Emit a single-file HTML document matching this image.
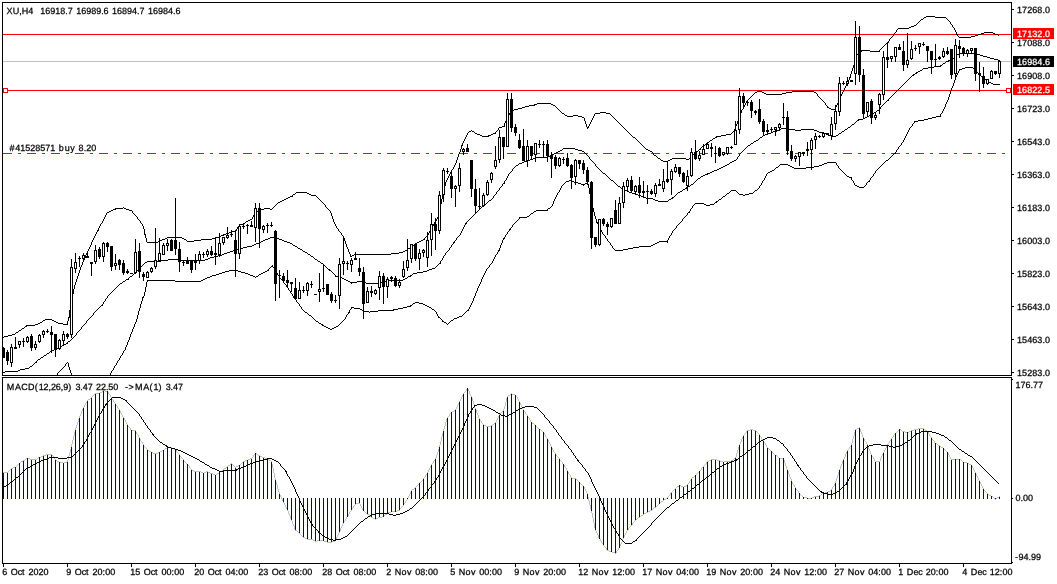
<!DOCTYPE html>
<html><head><meta charset="utf-8"><title>XU,H4</title>
<style>html,body{margin:0;padding:0;background:#fff;overflow:hidden}svg{display:block}text{text-rendering:geometricPrecision;white-space:pre}</style>
</head><body>
<svg width="1057" height="584" viewBox="0 0 1057 584" shape-rendering="crispEdges" font-family="'Liberation Sans', Arial, sans-serif" font-size="9px">
<defs><clipPath id="cm"><rect x="3" y="3" width="1008" height="372"/></clipPath><clipPath id="cd"><rect x="3" y="378" width="1008" height="185"/></clipPath></defs>
<rect x="0" y="0" width="1057" height="584" fill="#fff"/>
<rect x="3" y="61" width="1008" height="1" fill="#c0c0c0"/>
<rect x="3" y="34" width="1008" height="1" fill="#ff0000"/>
<rect x="3" y="90" width="1008" height="1" fill="#ff0000"/>
<rect x="3" y="153" width="9" height="1" fill="#008000"/>
<rect x="18" y="153" width="3" height="1" fill="#008000"/>
<rect x="27" y="153" width="9" height="1" fill="#008000"/>
<rect x="42" y="153" width="3" height="1" fill="#008000"/>
<rect x="51" y="153" width="9" height="1" fill="#008000"/>
<rect x="66" y="153" width="3" height="1" fill="#008000"/>
<rect x="75" y="153" width="9" height="1" fill="#008000"/>
<rect x="90" y="153" width="3" height="1" fill="#008000"/>
<rect x="99" y="153" width="9" height="1" fill="#008000"/>
<rect x="114" y="153" width="3" height="1" fill="#008000"/>
<rect x="123" y="153" width="9" height="1" fill="#008000"/>
<rect x="138" y="153" width="3" height="1" fill="#008000"/>
<rect x="147" y="153" width="9" height="1" fill="#008000"/>
<rect x="162" y="153" width="3" height="1" fill="#008000"/>
<rect x="171" y="153" width="9" height="1" fill="#008000"/>
<rect x="186" y="153" width="3" height="1" fill="#008000"/>
<rect x="195" y="153" width="9" height="1" fill="#008000"/>
<rect x="210" y="153" width="3" height="1" fill="#008000"/>
<rect x="219" y="153" width="9" height="1" fill="#008000"/>
<rect x="234" y="153" width="3" height="1" fill="#008000"/>
<rect x="243" y="153" width="9" height="1" fill="#008000"/>
<rect x="258" y="153" width="3" height="1" fill="#008000"/>
<rect x="267" y="153" width="9" height="1" fill="#008000"/>
<rect x="282" y="153" width="3" height="1" fill="#008000"/>
<rect x="291" y="153" width="9" height="1" fill="#008000"/>
<rect x="306" y="153" width="3" height="1" fill="#008000"/>
<rect x="315" y="153" width="9" height="1" fill="#008000"/>
<rect x="330" y="153" width="3" height="1" fill="#008000"/>
<rect x="339" y="153" width="9" height="1" fill="#008000"/>
<rect x="354" y="153" width="3" height="1" fill="#008000"/>
<rect x="363" y="153" width="9" height="1" fill="#008000"/>
<rect x="378" y="153" width="3" height="1" fill="#008000"/>
<rect x="387" y="153" width="9" height="1" fill="#008000"/>
<rect x="402" y="153" width="3" height="1" fill="#008000"/>
<rect x="411" y="153" width="9" height="1" fill="#008000"/>
<rect x="426" y="153" width="3" height="1" fill="#008000"/>
<rect x="435" y="153" width="9" height="1" fill="#008000"/>
<rect x="450" y="153" width="3" height="1" fill="#008000"/>
<rect x="459" y="153" width="9" height="1" fill="#008000"/>
<rect x="474" y="153" width="3" height="1" fill="#008000"/>
<rect x="483" y="153" width="9" height="1" fill="#008000"/>
<rect x="498" y="153" width="3" height="1" fill="#008000"/>
<rect x="507" y="153" width="9" height="1" fill="#008000"/>
<rect x="522" y="153" width="3" height="1" fill="#008000"/>
<rect x="531" y="153" width="9" height="1" fill="#008000"/>
<rect x="546" y="153" width="3" height="1" fill="#008000"/>
<rect x="555" y="153" width="9" height="1" fill="#008000"/>
<rect x="570" y="153" width="3" height="1" fill="#008000"/>
<rect x="579" y="153" width="9" height="1" fill="#008000"/>
<rect x="594" y="153" width="3" height="1" fill="#008000"/>
<rect x="603" y="153" width="9" height="1" fill="#008000"/>
<rect x="618" y="153" width="3" height="1" fill="#008000"/>
<rect x="627" y="153" width="9" height="1" fill="#008000"/>
<rect x="642" y="153" width="3" height="1" fill="#008000"/>
<rect x="651" y="153" width="9" height="1" fill="#008000"/>
<rect x="666" y="153" width="3" height="1" fill="#008000"/>
<rect x="675" y="153" width="9" height="1" fill="#008000"/>
<rect x="690" y="153" width="3" height="1" fill="#008000"/>
<rect x="699" y="153" width="9" height="1" fill="#008000"/>
<rect x="714" y="153" width="3" height="1" fill="#008000"/>
<rect x="723" y="153" width="9" height="1" fill="#008000"/>
<rect x="738" y="153" width="3" height="1" fill="#008000"/>
<rect x="747" y="153" width="9" height="1" fill="#008000"/>
<rect x="762" y="153" width="3" height="1" fill="#008000"/>
<rect x="771" y="153" width="9" height="1" fill="#008000"/>
<rect x="786" y="153" width="3" height="1" fill="#008000"/>
<rect x="795" y="153" width="9" height="1" fill="#008000"/>
<rect x="810" y="153" width="3" height="1" fill="#008000"/>
<rect x="819" y="153" width="9" height="1" fill="#008000"/>
<rect x="834" y="153" width="3" height="1" fill="#008000"/>
<rect x="843" y="153" width="9" height="1" fill="#008000"/>
<rect x="858" y="153" width="3" height="1" fill="#008000"/>
<rect x="867" y="153" width="9" height="1" fill="#008000"/>
<rect x="882" y="153" width="3" height="1" fill="#008000"/>
<rect x="891" y="153" width="9" height="1" fill="#008000"/>
<rect x="906" y="153" width="3" height="1" fill="#008000"/>
<rect x="915" y="153" width="9" height="1" fill="#008000"/>
<rect x="930" y="153" width="3" height="1" fill="#008000"/>
<rect x="939" y="153" width="9" height="1" fill="#008000"/>
<rect x="954" y="153" width="3" height="1" fill="#008000"/>
<rect x="963" y="153" width="9" height="1" fill="#008000"/>
<rect x="978" y="153" width="3" height="1" fill="#008000"/>
<rect x="987" y="153" width="9" height="1" fill="#008000"/>
<rect x="1002" y="153" width="3" height="1" fill="#008000"/>
<g clip-path="url(#cm)">
<path d="M26.5 325v2M67.5 321v4M68.5 317v4M69.5 310v8M70.5 304v6M71.5 299v5M72.5 294v5M73.5 289v5M74.5 285v4M75.5 282v3M76.5 279v3M77.5 276v3M78.5 273v3M79.5 270v3M80.5 267v3M81.5 265v2M82.5 262v3M83.5 260v2M84.5 258v2M85.5 255v3M86.5 253v2M87.5 251v2M88.5 249v2M89.5 247v2M90.5 245v2M91.5 242v3M92.5 240v2M93.5 238v2M94.5 236v2M95.5 234v2M96.5 232v2M97.5 230v2M98.5 228v3M99.5 226v2M100.5 224v2M102.5 221v2M103.5 219v2M104.5 217v2M105.5 215v2M106.5 213v2M115.5 208v2M132.5 211v2M137.5 217v2M140.5 221v2M142.5 224v2M143.5 226v3M144.5 229v6M145.5 234v4M146.5 238v4M155.5 242v2M223.5 234v2M236.5 229v2M237.5 227v2M239.5 224v2M252.5 217v2M253.5 215v2M254.5 213v2M292.5 195v2M325.5 205v2M330.5 211v2M331.5 213v3M332.5 216v3M333.5 219v3M334.5 222v2M335.5 224v2M336.5 226v2M338.5 229v2M341.5 233v2M343.5 236v2M344.5 238v3M345.5 241v3M346.5 244v3M347.5 247v2M348.5 249v3M349.5 252v2M350.5 254v3M424.5 238v2M428.5 233v2M429.5 231v2M431.5 228v2M432.5 226v2M433.5 224v2M434.5 222v2M435.5 220v2M436.5 219v2M437.5 217v2M438.5 213v4M439.5 208v5M440.5 204v4M441.5 199v5M442.5 195v4M443.5 190v5M444.5 186v4M445.5 182v4M446.5 180v2M447.5 178v2M448.5 176v2M449.5 174v2M450.5 172v2M451.5 170v3M453.5 167v2M454.5 165v2M455.5 163v2M456.5 160v3M457.5 157v3M458.5 154v3M459.5 152v2M460.5 149v3M461.5 145v4M462.5 143v3M463.5 141v2M464.5 139v2M465.5 137v2M466.5 135v2M467.5 133v2M488.5 135v2M495.5 132v2M498.5 128v2M504.5 123v4M505.5 121v2M506.5 118v3M508.5 115v2M509.5 113v2M534.5 104v2M584.5 118v3M585.5 121v3M586.5 124v3M587.5 127v2M588.5 126v2M589.5 124v2M590.5 122v2M591.5 120v2M592.5 118v2M593.5 116v2M594.5 114v2M653.5 153v2M691.5 157v2M692.5 155v2M700.5 148v2M716.5 136v2M734.5 129v3M735.5 126v3M736.5 124v2M737.5 121v3M738.5 118v3M739.5 115v3M740.5 113v2M741.5 110v3M743.5 107v2M744.5 105v2M745.5 103v2M746.5 101v2M817.5 94v2M825.5 103v2M827.5 106v2M835.5 107v3M836.5 105v2M837.5 103v2M838.5 101v2M839.5 98v3M840.5 96v2M841.5 94v2M842.5 92v2M843.5 90v2M844.5 88v2M845.5 86v2M846.5 84v2M847.5 82v2M848.5 80v2M849.5 77v3M850.5 74v4M851.5 71v3M852.5 68v3M853.5 65v3M854.5 62v3M855.5 58v4M856.5 55v3M861.5 50v2M879.5 50v2M888.5 41v2M889.5 39v2M893.5 34v2M896.5 30v2M950.5 22v2M952.5 25v2M954.5 28v2M955.5 30v2M956.5 32v3M957.5 34v2M926 16.5h9M924 17.5h2M935 17.5h11M923 18.5h1M946 18.5h1M921 19.5h2M947 19.5h1M920 20.5h1M948 20.5h1M919 21.5h1M949 21.5h1M918 22.5h1M917 23.5h1M916 24.5h1M951 24.5h1M914 25.5h2M911 26.5h3M909 27.5h2M953 27.5h1M898 28.5h11M897 29.5h1M895 32.5h1M984 32.5h9M894 33.5h1M981 33.5h3M993 33.5h2M978 34.5h3M995 34.5h3M975 35.5h3M998 35.5h1M892 36.5h1M958 36.5h1M971 36.5h4M891 37.5h1M959 37.5h12M890 38.5h1M887 42.5h1M886 43.5h1M885 44.5h1M884 45.5h1M883 46.5h1M882 47.5h1M881 48.5h1M880 49.5h1M862 50.5h8M860 51.5h1M870 51.5h9M859 52.5h1M858 53.5h1M857 54.5h1M757 91.5h5M792 91.5h22M755 92.5h2M762 92.5h2M786 92.5h6M814 92.5h2M754 93.5h1M764 93.5h2M782 93.5h4M816 93.5h1M753 94.5h1M766 94.5h16M752 95.5h1M751 96.5h1M818 96.5h1M750 97.5h1M819 97.5h1M749 98.5h1M820 98.5h1M748 99.5h1M821 99.5h1M747 100.5h1M822 100.5h1M823 101.5h1M824 102.5h1M537 103.5h14M535 104.5h2M551 104.5h2M529 105.5h5M553 105.5h2M826 105.5h1M525 106.5h4M555 106.5h1M522 107.5h3M556 107.5h1M828 107.5h1M518 108.5h4M557 108.5h1M829 108.5h2M514 109.5h4M558 109.5h1M742 109.5h1M831 109.5h4M512 110.5h2M559 110.5h1M511 111.5h1M560 111.5h1M510 112.5h1M561 112.5h1M600 112.5h6M562 113.5h2M595 113.5h5M606 113.5h4M564 114.5h1M610 114.5h1M565 115.5h2M573 115.5h5M611 115.5h1M567 116.5h6M578 116.5h4M612 116.5h1M507 117.5h1M582 117.5h2M613 117.5h1M614 118.5h1M615 119.5h1M616 120.5h1M617 121.5h1M618 122.5h1M619 123.5h1M620 124.5h1M621 125.5h1M502 126.5h2M622 126.5h1M499 127.5h3M623 127.5h1M624 128.5h1M625 129.5h1M471 130.5h1M497 130.5h1M626 130.5h1M469 131.5h2M472 131.5h2M496 131.5h1M627 131.5h1M733 131.5h1M468 132.5h1M474 132.5h1M628 132.5h1M732 132.5h1M475 133.5h2M493 133.5h2M629 133.5h1M731 133.5h1M477 134.5h3M491 134.5h2M630 134.5h1M726 134.5h5M480 135.5h2M489 135.5h2M631 135.5h1M721 135.5h5M482 136.5h6M632 136.5h1M717 136.5h4M633 137.5h2M715 137.5h1M635 138.5h1M713 138.5h2M636 139.5h1M712 139.5h1M637 140.5h1M710 140.5h2M638 141.5h1M709 141.5h1M639 142.5h1M707 142.5h2M640 143.5h1M706 143.5h1M641 144.5h1M705 144.5h1M642 145.5h1M704 145.5h1M643 146.5h1M702 146.5h2M644 147.5h1M701 147.5h1M645 148.5h1M646 149.5h2M699 149.5h1M648 150.5h2M698 150.5h1M650 151.5h2M696 151.5h2M652 152.5h1M695 152.5h1M694 153.5h1M693 154.5h1M654 155.5h2M656 156.5h1M657 157.5h1M658 158.5h2M672 158.5h14M689 158.5h2M660 159.5h1M670 159.5h2M686 159.5h3M661 160.5h2M668 160.5h2M663 161.5h5M452 169.5h1M296 192.5h11M295 193.5h1M307 193.5h2M293 194.5h2M309 194.5h2M311 195.5h5M290 196.5h2M316 196.5h1M288 197.5h2M317 197.5h1M286 198.5h2M318 198.5h1M284 199.5h2M319 199.5h1M282 200.5h2M320 200.5h1M280 201.5h2M321 201.5h1M278 202.5h2M322 202.5h1M277 203.5h1M323 203.5h1M276 204.5h1M324 204.5h1M275 205.5h1M274 206.5h1M123 207.5h1M273 207.5h1M326 207.5h1M116 208.5h7M124 208.5h2M264 208.5h6M272 208.5h1M327 208.5h1M113 209.5h2M126 209.5h3M260 209.5h4M270 209.5h2M328 209.5h1M111 210.5h2M129 210.5h3M259 210.5h1M329 210.5h1M109 211.5h2M257 211.5h2M107 212.5h2M256 212.5h1M133 213.5h1M255 213.5h1M134 214.5h1M135 215.5h1M136 216.5h1M138 219.5h1M250 219.5h2M139 220.5h1M248 220.5h2M246 221.5h2M245 222.5h1M101 223.5h1M141 223.5h1M243 223.5h2M240 224.5h3M238 226.5h1M337 228.5h1M235 230.5h1M430 230.5h1M232 231.5h3M339 231.5h1M229 232.5h3M340 232.5h1M226 233.5h3M224 234.5h2M221 235.5h2M342 235.5h1M427 235.5h1M219 236.5h2M426 236.5h1M167 237.5h15M216 237.5h3M425 237.5h1M165 238.5h2M182 238.5h2M212 238.5h4M162 239.5h3M184 239.5h2M201 239.5h11M423 239.5h1M160 240.5h2M186 240.5h1M194 240.5h7M421 240.5h2M158 241.5h2M187 241.5h7M419 241.5h2M147 242.5h8M156 242.5h2M417 242.5h2M415 243.5h2M414 244.5h1M413 245.5h1M411 246.5h2M410 247.5h1M408 248.5h2M407 249.5h1M405 250.5h2M403 251.5h2M399 252.5h4M391 253.5h8M354 254.5h37M352 255.5h2M351 256.5h1M45 319.5h7M43 320.5h2M52 320.5h2M42 321.5h1M54 321.5h2M40 322.5h2M56 322.5h2M38 323.5h2M58 323.5h5M35 324.5h3M63 324.5h4M27 325.5h8M25 326.5h1M24 327.5h1M22 328.5h2M21 329.5h1M19 330.5h2M18 331.5h1M16 332.5h2M15 333.5h1M12 334.5h3M8 335.5h4M4 336.5h4M3 337.5h1" fill="none" stroke="#000" stroke-width="1"/>
<path d="M36.5 361v2M67.5 342v2M76.5 333v2M81.5 327v2M86.5 321v2M93.5 313v2M102.5 304v2M103.5 302v2M105.5 299v2M107.5 296v2M128.5 278v2M135.5 272v2M329.5 269v2M335.5 275v2M351.5 282v2M410.5 275v2M440.5 261v3M442.5 258v2M443.5 256v2M445.5 253v2M449.5 248v2M451.5 245v2M453.5 242v2M454.5 241v2M456.5 238v2M460.5 233v2M461.5 231v2M462.5 229v2M463.5 227v2M464.5 225v2M465.5 223v2M466.5 222v2M484.5 204v2M493.5 196v2M496.5 192v2M499.5 188v2M502.5 184v2M504.5 181v3M506.5 178v2M507.5 176v2M508.5 174v2M512.5 169v2M552.5 154v2M589.5 157v2M595.5 164v2M672.5 197v2M686.5 187v2M707.5 173v2M737.5 157v2M739.5 154v2M776.5 130v2M858.5 119v2M880.5 107v2M888.5 99v2M913.5 74v2M916.5 72v2M940.5 65v2M948.5 60v2M956.5 55v2M959 53.5h17M957 54.5h2M976 54.5h4M980 55.5h3M955 56.5h1M983 56.5h4M954 57.5h1M987 57.5h3M953 58.5h1M990 58.5h4M951 59.5h2M994 59.5h4M949 60.5h2M998 60.5h2M946 61.5h2M945 62.5h1M943 63.5h2M942 64.5h1M941 65.5h1M934 66.5h6M928 67.5h6M923 68.5h5M922 69.5h1M920 70.5h2M918 71.5h2M917 72.5h1M915 73.5h1M914 74.5h1M912 75.5h1M911 76.5h1M910 77.5h1M909 78.5h1M908 79.5h1M907 80.5h1M906 81.5h1M905 82.5h1M904 83.5h1M903 84.5h1M902 85.5h1M901 86.5h1M900 87.5h1M899 88.5h1M898 89.5h1M897 90.5h1M896 91.5h1M895 92.5h1M894 93.5h1M893 94.5h1M892 95.5h1M891 96.5h1M890 97.5h1M889 98.5h1M887 100.5h1M886 101.5h1M885 102.5h1M884 103.5h1M883 104.5h1M882 105.5h1M881 106.5h1M879 109.5h1M877 110.5h2M876 111.5h1M874 112.5h2M872 113.5h2M871 114.5h1M869 115.5h2M867 116.5h2M865 117.5h2M863 118.5h2M859 119.5h4M857 120.5h1M856 121.5h1M855 122.5h1M854 123.5h1M852 124.5h2M851 125.5h1M850 126.5h1M848 127.5h2M781 128.5h8M847 128.5h1M779 129.5h2M789 129.5h6M801 129.5h13M845 129.5h2M777 130.5h2M795 130.5h6M814 130.5h3M844 130.5h1M773 131.5h3M817 131.5h2M842 131.5h2M771 132.5h2M819 132.5h5M841 132.5h1M768 133.5h3M824 133.5h2M839 133.5h2M765 134.5h3M826 134.5h2M838 134.5h1M763 135.5h2M828 135.5h3M836 135.5h2M762 136.5h1M831 136.5h5M760 137.5h2M759 138.5h1M758 139.5h1M756 140.5h2M754 141.5h2M753 142.5h1M751 143.5h2M750 144.5h1M748 145.5h2M747 146.5h1M746 147.5h1M563 148.5h12M745 148.5h1M562 149.5h1M575 149.5h3M744 149.5h1M560 150.5h2M578 150.5h4M743 150.5h1M558 151.5h2M582 151.5h2M742 151.5h1M556 152.5h2M584 152.5h1M741 152.5h1M554 153.5h2M585 153.5h1M740 153.5h1M553 154.5h1M586 154.5h1M550 155.5h2M587 155.5h1M548 156.5h2M588 156.5h1M738 156.5h1M536 157.5h12M533 158.5h3M530 159.5h3M590 159.5h1M736 159.5h1M527 160.5h3M591 160.5h1M734 160.5h2M524 161.5h3M592 161.5h1M732 161.5h2M522 162.5h2M593 162.5h1M730 162.5h2M519 163.5h3M594 163.5h1M729 163.5h1M518 164.5h1M727 164.5h2M516 165.5h2M725 165.5h2M515 166.5h1M596 166.5h1M723 166.5h2M514 167.5h1M597 167.5h1M721 167.5h2M513 168.5h1M598 168.5h1M719 168.5h2M599 169.5h1M717 169.5h2M600 170.5h1M714 170.5h3M511 171.5h1M601 171.5h1M712 171.5h2M510 172.5h1M602 172.5h1M710 172.5h2M509 173.5h1M603 173.5h2M708 173.5h2M605 174.5h1M705 174.5h2M606 175.5h1M703 175.5h2M607 176.5h1M701 176.5h2M608 177.5h1M700 177.5h1M609 178.5h1M698 178.5h2M610 179.5h1M697 179.5h1M505 180.5h1M611 180.5h2M696 180.5h1M613 181.5h1M695 181.5h1M614 182.5h1M694 182.5h1M503 183.5h1M615 183.5h1M693 183.5h1M616 184.5h1M691 184.5h2M617 185.5h1M690 185.5h1M501 186.5h1M618 186.5h2M688 186.5h2M500 187.5h1M620 187.5h1M687 187.5h1M621 188.5h2M685 188.5h1M623 189.5h2M683 189.5h2M498 190.5h1M625 190.5h2M682 190.5h1M497 191.5h1M627 191.5h2M680 191.5h2M629 192.5h3M678 192.5h2M632 193.5h3M677 193.5h1M495 194.5h1M635 194.5h3M676 194.5h1M494 195.5h1M638 195.5h3M675 195.5h1M641 196.5h2M674 196.5h1M643 197.5h3M673 197.5h1M492 198.5h1M646 198.5h7M671 198.5h1M491 199.5h1M653 199.5h2M669 199.5h2M489 200.5h2M655 200.5h3M668 200.5h1M488 201.5h1M658 201.5h10M487 202.5h1M486 203.5h1M485 204.5h1M483 205.5h1M482 206.5h1M481 207.5h1M480 208.5h1M479 209.5h1M478 210.5h1M477 211.5h1M476 212.5h1M475 213.5h1M474 214.5h1M473 215.5h1M472 216.5h1M471 217.5h1M470 218.5h1M469 219.5h1M468 220.5h1M467 221.5h1M459 235.5h1M458 236.5h1M270 237.5h6M457 237.5h1M268 238.5h2M276 238.5h3M265 239.5h3M279 239.5h3M263 240.5h2M282 240.5h2M455 240.5h1M261 241.5h2M284 241.5h3M259 242.5h2M287 242.5h3M256 243.5h3M290 243.5h2M254 244.5h2M292 244.5h1M452 244.5h1M252 245.5h2M293 245.5h2M247 246.5h5M295 246.5h2M243 247.5h4M297 247.5h1M450 247.5h1M239 248.5h4M298 248.5h2M236 249.5h3M300 249.5h2M233 250.5h3M302 250.5h1M448 250.5h1M230 251.5h3M303 251.5h2M447 251.5h1M227 252.5h3M305 252.5h2M446 252.5h1M224 253.5h3M307 253.5h1M222 254.5h2M308 254.5h2M218 255.5h4M310 255.5h1M444 255.5h1M214 256.5h4M311 256.5h2M210 257.5h4M313 257.5h1M208 258.5h2M314 258.5h1M168 259.5h13M205 259.5h3M315 259.5h2M161 260.5h7M181 260.5h24M317 260.5h1M441 260.5h1M147 261.5h14M318 261.5h2M145 262.5h2M320 262.5h1M144 263.5h1M321 263.5h2M439 263.5h1M143 264.5h1M323 264.5h1M438 264.5h1M142 265.5h1M324 265.5h1M437 265.5h1M141 266.5h1M325 266.5h1M436 266.5h1M140 267.5h1M326 267.5h1M435 267.5h1M139 268.5h1M327 268.5h1M432 268.5h3M138 269.5h1M328 269.5h1M429 269.5h3M137 270.5h1M330 270.5h1M427 270.5h2M136 271.5h1M331 271.5h1M423 271.5h4M332 272.5h1M417 272.5h6M134 273.5h1M333 273.5h1M413 273.5h4M133 274.5h1M334 274.5h1M412 274.5h1M132 275.5h1M411 275.5h1M130 276.5h2M336 276.5h4M408 276.5h2M129 277.5h1M340 277.5h2M407 277.5h1M342 278.5h2M405 278.5h2M126 279.5h2M344 279.5h2M403 279.5h2M125 280.5h1M346 280.5h2M389 280.5h14M123 281.5h2M348 281.5h2M357 281.5h5M384 281.5h5M122 282.5h1M350 282.5h1M352 282.5h5M362 282.5h4M378 282.5h6M120 283.5h2M366 283.5h12M119 284.5h1M118 285.5h1M117 286.5h1M116 287.5h1M115 288.5h1M114 289.5h1M113 290.5h1M112 291.5h1M111 292.5h1M110 293.5h1M109 294.5h1M108 295.5h1M106 298.5h1M104 301.5h1M101 305.5h1M100 306.5h1M99 307.5h1M98 308.5h1M97 309.5h1M96 310.5h1M95 311.5h1M94 312.5h1M92 315.5h1M91 316.5h1M90 317.5h1M89 318.5h1M88 319.5h1M87 320.5h1M85 323.5h1M84 324.5h1M83 325.5h1M82 326.5h1M80 329.5h1M79 330.5h1M78 331.5h1M77 332.5h1M75 335.5h1M74 336.5h1M73 337.5h1M72 338.5h1M71 339.5h1M70 340.5h1M68 341.5h2M66 343.5h1M64 344.5h2M62 345.5h2M60 346.5h2M58 347.5h2M56 348.5h2M54 349.5h2M52 350.5h2M50 351.5h2M49 352.5h1M47 353.5h2M46 354.5h1M44 355.5h2M43 356.5h1M41 357.5h2M40 358.5h1M38 359.5h2M37 360.5h1M35 362.5h1M34 363.5h1M33 364.5h1M32 365.5h1M30 366.5h2M29 367.5h1M25 368.5h4M20 369.5h5M18 370.5h2M5 371.5h13M3 372.5h2" fill="none" stroke="#000" stroke-width="1"/>
<path d="M57.5 373v2M65.5 364v2M68.5 363v4M69.5 367v3M70.5 370v3M71.5 373v2M67 362.5h1M66 363.5h1M64 366.5h1M63 367.5h1M62 368.5h1M61 369.5h1M60 370.5h1M59 371.5h1M58 372.5h1" fill="none" stroke="#000" stroke-width="1"/>
<path d="M110.5 373v2M111.5 371v2M113.5 368v2M114.5 366v2M116.5 363v2M117.5 361v2M119.5 358v2M120.5 356v2M122.5 353v2M123.5 351v2M125.5 347v3M126.5 345v2M127.5 342v3M128.5 340v2M129.5 337v3M130.5 334v3M131.5 332v2M132.5 329v3M133.5 327v2M134.5 324v3M135.5 322v2M136.5 319v3M137.5 315v4M138.5 311v4M139.5 308v3M140.5 304v4M141.5 301v3M142.5 297v4M143.5 296v2M144.5 292v4M145.5 287v5M146.5 282v5M147.5 280v2M268.5 269v2M272.5 265v2M274.5 268v2M275.5 270v2M276.5 272v2M277.5 273v2M279.5 276v2M283.5 281v2M286.5 285v2M288.5 288v2M290.5 291v2M292.5 294v2M293.5 296v2M294.5 297v2M296.5 300v2M299.5 304v2M301.5 307v2M322.5 324v2M345.5 317v2M346.5 315v2M348.5 312v2M349.5 310v3M351.5 307v2M393.5 309v2M410.5 305v2M436.5 312v2M437.5 314v2M438.5 316v2M442.5 320v2M468.5 309v2M469.5 307v2M470.5 305v2M471.5 303v2M472.5 301v2M473.5 298v3M474.5 296v2M475.5 293v3M476.5 291v2M477.5 288v3M478.5 286v2M479.5 284v2M480.5 282v2M481.5 279v3M482.5 277v2M483.5 275v2M484.5 273v2M485.5 271v2M486.5 269v2M489.5 265v2M492.5 261v2M493.5 259v2M494.5 257v2M495.5 255v2M497.5 252v2M498.5 250v2M499.5 248v3M500.5 245v3M501.5 243v2M502.5 240v3M503.5 238v2M504.5 237v2M505.5 235v2M507.5 232v2M509.5 229v2M510.5 228v2M512.5 225v2M519.5 217v2M547.5 209v2M552.5 204v2M553.5 201v3M554.5 199v2M555.5 197v2M556.5 195v2M557.5 193v2M559.5 190v2M560.5 188v2M561.5 186v2M583.5 184v2M588.5 184v4M589.5 188v6M590.5 194v5M591.5 199v4M592.5 203v5M593.5 208v4M594.5 212v4M595.5 216v3M596.5 219v4M597.5 222v2M598.5 224v2M599.5 226v2M600.5 228v2M601.5 230v2M602.5 232v2M605.5 236v2M607.5 239v2M610.5 243v2M612.5 246v2M667.5 240v3M668.5 238v2M669.5 236v2M671.5 233v2M672.5 231v2M676.5 226v2M682.5 219v2M687.5 213v2M689.5 211v2M690.5 209v2M692.5 206v2M716.5 201v2M759.5 186v2M761.5 183v2M762.5 181v2M764.5 178v2M765.5 176v2M766.5 174v2M836.5 163v2M838.5 166v2M851.5 177v3M853.5 181v2M854.5 183v2M866.5 183v2M869.5 180v2M870.5 178v2M873.5 174v2M875.5 171v2M895.5 152v2M896.5 150v2M898.5 147v2M901.5 143v2M903.5 140v2M904.5 138v2M905.5 136v2M906.5 134v2M907.5 132v2M908.5 130v2M909.5 128v2M912.5 124v2M914.5 121v2M940.5 114v3M942.5 111v2M943.5 109v2M944.5 107v2M945.5 104v3M946.5 102v2M947.5 100v2M948.5 97v3M949.5 94v3M950.5 91v3M951.5 88v3M952.5 86v2M953.5 83v3M954.5 80v3M955.5 77v3M956.5 75v2M957.5 73v2M958.5 71v2M959.5 69v2M965 67.5h8M962 68.5h3M973 68.5h1M960 69.5h2M974 69.5h1M975 70.5h1M976 71.5h1M977 72.5h1M978 73.5h1M979 74.5h1M980 75.5h1M981 76.5h1M982 77.5h1M983 78.5h2M985 79.5h1M986 80.5h1M987 81.5h1M988 82.5h3M991 83.5h2M993 84.5h7M941 113.5h1M936 116.5h4M932 117.5h4M928 118.5h4M924 119.5h4M918 120.5h6M915 121.5h3M913 123.5h1M911 126.5h1M910 127.5h1M902 142.5h1M900 145.5h1M899 146.5h1M897 149.5h1M894 153.5h1M893 154.5h1M892 155.5h1M891 156.5h1M890 157.5h1M889 158.5h1M888 159.5h1M886 160.5h2M885 161.5h1M827 162.5h9M884 162.5h1M824 163.5h3M883 163.5h1M780 164.5h8M822 164.5h2M882 164.5h1M779 165.5h1M788 165.5h2M819 165.5h3M837 165.5h1M881 165.5h1M778 166.5h1M790 166.5h2M814 166.5h5M880 166.5h1M776 167.5h2M792 167.5h2M806 167.5h8M879 167.5h1M775 168.5h1M794 168.5h12M839 168.5h1M878 168.5h1M774 169.5h1M840 169.5h1M877 169.5h1M772 170.5h2M841 170.5h1M876 170.5h1M770 171.5h2M842 171.5h1M768 172.5h2M843 172.5h1M767 173.5h1M844 173.5h1M874 173.5h1M845 174.5h1M846 175.5h1M847 176.5h2M872 176.5h1M849 177.5h2M871 177.5h1M569 180.5h2M763 180.5h1M852 180.5h1M566 181.5h3M571 181.5h3M868 181.5h1M565 182.5h1M574 182.5h4M867 182.5h1M564 183.5h1M578 183.5h3M585 183.5h3M563 184.5h1M581 184.5h2M584 184.5h1M562 185.5h1M760 185.5h1M855 185.5h2M865 185.5h1M857 186.5h2M864 186.5h1M859 187.5h5M758 188.5h1M757 189.5h1M731 190.5h5M755 190.5h2M730 191.5h1M736 191.5h1M754 191.5h1M558 192.5h1M729 192.5h1M737 192.5h1M753 192.5h1M727 193.5h2M738 193.5h1M749 193.5h4M726 194.5h1M739 194.5h4M745 194.5h4M725 195.5h1M743 195.5h2M723 196.5h2M722 197.5h1M721 198.5h1M719 199.5h2M718 200.5h1M717 201.5h1M715 202.5h1M695 203.5h9M714 203.5h1M694 204.5h1M704 204.5h2M710 204.5h4M693 205.5h1M706 205.5h4M551 206.5h1M550 207.5h1M548 208.5h2M691 208.5h1M536 210.5h11M534 211.5h2M533 212.5h1M688 212.5h1M531 213.5h2M530 214.5h1M529 215.5h1M686 215.5h1M527 216.5h2M685 216.5h1M520 217.5h7M684 217.5h1M683 218.5h1M518 219.5h1M517 220.5h1M516 221.5h1M681 221.5h1M515 222.5h1M680 222.5h1M514 223.5h1M679 223.5h1M513 224.5h1M678 224.5h1M677 225.5h1M511 227.5h1M675 228.5h1M674 229.5h1M673 230.5h1M508 231.5h1M506 234.5h1M603 234.5h1M604 235.5h1M670 235.5h1M606 238.5h1M608 241.5h1M659 241.5h8M609 242.5h1M657 242.5h2M655 243.5h2M653 244.5h2M611 245.5h1M651 245.5h2M639 246.5h12M633 247.5h6M613 248.5h1M628 248.5h5M614 249.5h1M623 249.5h5M615 250.5h8M496 254.5h1M491 263.5h1M490 264.5h1M271 266.5h1M270 267.5h1M273 267.5h1M488 267.5h1M269 268.5h1M487 268.5h1M229 270.5h9M267 270.5h1M225 271.5h4M238 271.5h3M265 271.5h2M222 272.5h3M241 272.5h4M263 272.5h2M219 273.5h3M245 273.5h3M261 273.5h2M216 274.5h3M248 274.5h2M259 274.5h2M212 275.5h4M250 275.5h3M258 275.5h1M278 275.5h1M210 276.5h2M253 276.5h2M256 276.5h2M207 277.5h3M255 277.5h1M205 278.5h2M280 278.5h1M203 279.5h2M281 279.5h1M148 280.5h27M201 280.5h2M282 280.5h1M175 281.5h26M284 283.5h1M285 284.5h1M287 287.5h1M289 290.5h1M291 293.5h1M295 299.5h1M297 302.5h1M415 302.5h4M298 303.5h1M413 303.5h2M419 303.5h4M412 304.5h1M423 304.5h2M411 305.5h1M425 305.5h2M300 306.5h1M407 306.5h3M427 306.5h2M352 307.5h2M403 307.5h4M429 307.5h2M354 308.5h6M398 308.5h5M431 308.5h1M302 309.5h1M350 309.5h1M360 309.5h2M394 309.5h4M432 309.5h2M303 310.5h1M362 310.5h2M378 310.5h15M434 310.5h1M467 310.5h1M304 311.5h1M364 311.5h5M370 311.5h8M435 311.5h1M466 311.5h1M305 312.5h2M369 312.5h1M465 312.5h1M307 313.5h1M464 313.5h1M308 314.5h1M347 314.5h1M463 314.5h1M309 315.5h2M462 315.5h1M311 316.5h1M459 316.5h3M312 317.5h1M439 317.5h1M457 317.5h2M313 318.5h1M440 318.5h1M454 318.5h3M314 319.5h1M344 319.5h1M441 319.5h1M453 319.5h1M315 320.5h1M343 320.5h1M451 320.5h2M316 321.5h2M342 321.5h1M443 321.5h1M450 321.5h1M318 322.5h1M341 322.5h1M444 322.5h2M449 322.5h1M319 323.5h2M340 323.5h1M446 323.5h1M448 323.5h1M321 324.5h1M339 324.5h1M447 324.5h1M323 325.5h1M338 325.5h1M324 326.5h2M336 326.5h2M326 327.5h2M334 327.5h2M328 328.5h2M332 328.5h2M330 329.5h2M124 350.5h1M121 355.5h1M118 360.5h1M115 365.5h1M112 370.5h1" fill="none" stroke="#000" stroke-width="1"/>
<rect x="999" y="60" width="1" height="18" fill="#000"/>
<rect x="998" y="61" width="3" height="13" fill="#000"/>
<rect x="999" y="62" width="1" height="11" fill="#fff"/>
<rect x="995" y="71" width="1" height="4" fill="#000"/>
<rect x="994" y="71" width="3" height="3" fill="#000"/>
<rect x="991" y="70" width="1" height="9" fill="#000"/>
<rect x="990" y="71" width="3" height="8" fill="#000"/>
<rect x="991" y="72" width="1" height="6" fill="#fff"/>
<rect x="987" y="79" width="1" height="6" fill="#000"/>
<rect x="986" y="79" width="3" height="5" fill="#000"/>
<rect x="987" y="80" width="1" height="3" fill="#fff"/>
<rect x="983" y="67" width="1" height="21" fill="#000"/>
<rect x="982" y="76" width="3" height="8" fill="#000"/>
<rect x="979" y="62" width="1" height="30" fill="#000"/>
<rect x="978" y="73" width="3" height="2" fill="#000"/>
<rect x="975" y="48" width="1" height="33" fill="#000"/>
<rect x="974" y="48" width="3" height="26" fill="#000"/>
<rect x="971" y="48" width="1" height="5" fill="#000"/>
<rect x="970" y="48" width="3" height="3" fill="#000"/>
<rect x="971" y="49" width="1" height="1" fill="#fff"/>
<rect x="967" y="49" width="1" height="8" fill="#000"/>
<rect x="966" y="50" width="3" height="4" fill="#000"/>
<rect x="967" y="51" width="1" height="2" fill="#fff"/>
<rect x="963" y="47" width="1" height="9" fill="#000"/>
<rect x="962" y="48" width="3" height="6" fill="#000"/>
<rect x="959" y="40" width="1" height="18" fill="#000"/>
<rect x="958" y="46" width="3" height="3" fill="#000"/>
<rect x="955" y="39" width="1" height="39" fill="#000"/>
<rect x="954" y="45" width="3" height="29" fill="#000"/>
<rect x="955" y="46" width="1" height="27" fill="#fff"/>
<rect x="951" y="49" width="1" height="30" fill="#000"/>
<rect x="950" y="49" width="3" height="26" fill="#000"/>
<rect x="947" y="47" width="1" height="8" fill="#000"/>
<rect x="946" y="51" width="3" height="3" fill="#000"/>
<rect x="943" y="48" width="1" height="10" fill="#000"/>
<rect x="942" y="51" width="3" height="6" fill="#000"/>
<rect x="943" y="52" width="1" height="4" fill="#fff"/>
<rect x="939" y="56" width="1" height="4" fill="#000"/>
<rect x="938" y="57" width="3" height="2" fill="#000"/>
<rect x="935" y="44" width="1" height="22" fill="#000"/>
<rect x="934" y="59" width="3" height="1" fill="#000"/>
<rect x="931" y="51" width="1" height="23" fill="#000"/>
<rect x="930" y="51" width="3" height="9" fill="#000"/>
<rect x="927" y="46" width="1" height="16" fill="#000"/>
<rect x="926" y="46" width="3" height="5" fill="#000"/>
<rect x="923" y="42" width="1" height="4" fill="#000"/>
<rect x="922" y="44" width="3" height="1" fill="#000"/>
<rect x="919" y="43" width="1" height="11" fill="#000"/>
<rect x="918" y="43" width="3" height="4" fill="#000"/>
<rect x="919" y="44" width="1" height="2" fill="#fff"/>
<rect x="915" y="45" width="1" height="6" fill="#000"/>
<rect x="914" y="48" width="3" height="1" fill="#000"/>
<rect x="911" y="41" width="1" height="19" fill="#000"/>
<rect x="910" y="49" width="3" height="10" fill="#000"/>
<rect x="911" y="50" width="1" height="8" fill="#fff"/>
<rect x="907" y="33" width="1" height="35" fill="#000"/>
<rect x="906" y="60" width="3" height="5" fill="#000"/>
<rect x="907" y="61" width="1" height="3" fill="#fff"/>
<rect x="903" y="41" width="1" height="30" fill="#000"/>
<rect x="902" y="51" width="3" height="14" fill="#000"/>
<rect x="899" y="44" width="1" height="6" fill="#000"/>
<rect x="898" y="47" width="3" height="3" fill="#000"/>
<rect x="895" y="47" width="1" height="15" fill="#000"/>
<rect x="894" y="47" width="3" height="10" fill="#000"/>
<rect x="895" y="48" width="1" height="8" fill="#fff"/>
<rect x="891" y="56" width="1" height="6" fill="#000"/>
<rect x="890" y="56" width="3" height="3" fill="#000"/>
<rect x="891" y="57" width="1" height="1" fill="#fff"/>
<rect x="887" y="42" width="1" height="26" fill="#000"/>
<rect x="886" y="57" width="3" height="3" fill="#000"/>
<rect x="883" y="51" width="1" height="49" fill="#000"/>
<rect x="882" y="57" width="3" height="38" fill="#000"/>
<rect x="883" y="58" width="1" height="36" fill="#fff"/>
<rect x="879" y="93" width="1" height="21" fill="#000"/>
<rect x="878" y="94" width="3" height="11" fill="#000"/>
<rect x="879" y="95" width="1" height="9" fill="#fff"/>
<rect x="875" y="113" width="1" height="7" fill="#000"/>
<rect x="874" y="115" width="3" height="3" fill="#000"/>
<rect x="875" y="116" width="1" height="1" fill="#fff"/>
<rect x="871" y="99" width="1" height="25" fill="#000"/>
<rect x="870" y="101" width="3" height="17" fill="#000"/>
<rect x="867" y="102" width="1" height="14" fill="#000"/>
<rect x="866" y="102" width="3" height="10" fill="#000"/>
<rect x="867" y="103" width="1" height="8" fill="#fff"/>
<rect x="863" y="69" width="1" height="49" fill="#000"/>
<rect x="862" y="75" width="3" height="39" fill="#000"/>
<rect x="859" y="26" width="1" height="56" fill="#000"/>
<rect x="858" y="37" width="3" height="38" fill="#000"/>
<rect x="855" y="21" width="1" height="64" fill="#000"/>
<rect x="854" y="37" width="3" height="37" fill="#000"/>
<rect x="855" y="38" width="1" height="35" fill="#fff"/>
<rect x="851" y="80" width="1" height="2" fill="#000"/>
<rect x="850" y="80" width="3" height="2" fill="#000"/>
<rect x="847" y="77" width="1" height="9" fill="#000"/>
<rect x="846" y="81" width="3" height="3" fill="#000"/>
<rect x="847" y="82" width="1" height="1" fill="#fff"/>
<rect x="843" y="81" width="1" height="4" fill="#000"/>
<rect x="842" y="83" width="3" height="1" fill="#000"/>
<rect x="839" y="77" width="1" height="39" fill="#000"/>
<rect x="838" y="83" width="3" height="29" fill="#000"/>
<rect x="839" y="84" width="1" height="27" fill="#fff"/>
<rect x="835" y="105" width="1" height="25" fill="#000"/>
<rect x="834" y="111" width="3" height="13" fill="#000"/>
<rect x="835" y="112" width="1" height="11" fill="#fff"/>
<rect x="831" y="117" width="1" height="23" fill="#000"/>
<rect x="830" y="124" width="3" height="12" fill="#000"/>
<rect x="831" y="125" width="1" height="10" fill="#fff"/>
<rect x="827" y="133" width="1" height="2" fill="#000"/>
<rect x="826" y="133" width="3" height="2" fill="#000"/>
<rect x="823" y="133" width="1" height="5" fill="#000"/>
<rect x="822" y="133" width="3" height="4" fill="#000"/>
<rect x="823" y="134" width="1" height="2" fill="#fff"/>
<rect x="819" y="135" width="1" height="3" fill="#000"/>
<rect x="818" y="136" width="3" height="1" fill="#000"/>
<rect x="815" y="133" width="1" height="16" fill="#000"/>
<rect x="814" y="136" width="3" height="4" fill="#000"/>
<rect x="815" y="137" width="1" height="2" fill="#fff"/>
<rect x="811" y="138" width="1" height="32" fill="#000"/>
<rect x="810" y="140" width="3" height="10" fill="#000"/>
<rect x="811" y="141" width="1" height="8" fill="#fff"/>
<rect x="807" y="142" width="1" height="14" fill="#000"/>
<rect x="806" y="149" width="3" height="2" fill="#000"/>
<rect x="803" y="152" width="1" height="4" fill="#000"/>
<rect x="802" y="152" width="3" height="2" fill="#000"/>
<rect x="799" y="152" width="1" height="14" fill="#000"/>
<rect x="798" y="152" width="3" height="5" fill="#000"/>
<rect x="799" y="153" width="1" height="3" fill="#fff"/>
<rect x="795" y="155" width="1" height="7" fill="#000"/>
<rect x="794" y="156" width="3" height="3" fill="#000"/>
<rect x="795" y="157" width="1" height="1" fill="#fff"/>
<rect x="791" y="145" width="1" height="16" fill="#000"/>
<rect x="790" y="151" width="3" height="8" fill="#000"/>
<rect x="787" y="111" width="1" height="44" fill="#000"/>
<rect x="786" y="117" width="3" height="34" fill="#000"/>
<rect x="783" y="103" width="1" height="22" fill="#000"/>
<rect x="782" y="117" width="3" height="1" fill="#000"/>
<rect x="779" y="123" width="1" height="8" fill="#000"/>
<rect x="778" y="124" width="3" height="4" fill="#000"/>
<rect x="779" y="125" width="1" height="2" fill="#fff"/>
<rect x="775" y="127" width="1" height="9" fill="#000"/>
<rect x="774" y="127" width="3" height="3" fill="#000"/>
<rect x="775" y="128" width="1" height="1" fill="#fff"/>
<rect x="771" y="127" width="1" height="5" fill="#000"/>
<rect x="770" y="129" width="3" height="1" fill="#000"/>
<rect x="767" y="124" width="1" height="10" fill="#000"/>
<rect x="766" y="130" width="3" height="2" fill="#000"/>
<rect x="763" y="119" width="1" height="16" fill="#000"/>
<rect x="762" y="121" width="3" height="11" fill="#000"/>
<rect x="759" y="99" width="1" height="25" fill="#000"/>
<rect x="758" y="109" width="3" height="13" fill="#000"/>
<rect x="755" y="110" width="1" height="5" fill="#000"/>
<rect x="754" y="111" width="3" height="2" fill="#000"/>
<rect x="751" y="100" width="1" height="18" fill="#000"/>
<rect x="750" y="102" width="3" height="9" fill="#000"/>
<rect x="747" y="100" width="1" height="6" fill="#000"/>
<rect x="746" y="102" width="3" height="1" fill="#000"/>
<rect x="743" y="93" width="1" height="15" fill="#000"/>
<rect x="742" y="96" width="3" height="7" fill="#000"/>
<rect x="739" y="88" width="1" height="46" fill="#000"/>
<rect x="738" y="96" width="3" height="34" fill="#000"/>
<rect x="739" y="97" width="1" height="32" fill="#fff"/>
<rect x="735" y="121" width="1" height="24" fill="#000"/>
<rect x="734" y="130" width="3" height="15" fill="#000"/>
<rect x="735" y="131" width="1" height="13" fill="#fff"/>
<rect x="731" y="146" width="1" height="3" fill="#000"/>
<rect x="730" y="147" width="3" height="1" fill="#000"/>
<rect x="727" y="147" width="1" height="8" fill="#000"/>
<rect x="726" y="147" width="3" height="7" fill="#000"/>
<rect x="727" y="148" width="1" height="5" fill="#fff"/>
<rect x="723" y="152" width="1" height="4" fill="#000"/>
<rect x="722" y="152" width="3" height="3" fill="#000"/>
<rect x="723" y="153" width="1" height="1" fill="#fff"/>
<rect x="719" y="147" width="1" height="10" fill="#000"/>
<rect x="718" y="148" width="3" height="8" fill="#000"/>
<rect x="715" y="146" width="1" height="17" fill="#000"/>
<rect x="714" y="153" width="3" height="1" fill="#000"/>
<rect x="711" y="143" width="1" height="14" fill="#000"/>
<rect x="710" y="147" width="3" height="2" fill="#000"/>
<rect x="707" y="143" width="1" height="6" fill="#000"/>
<rect x="706" y="144" width="3" height="5" fill="#000"/>
<rect x="707" y="145" width="1" height="3" fill="#fff"/>
<rect x="703" y="144" width="1" height="11" fill="#000"/>
<rect x="702" y="149" width="3" height="6" fill="#000"/>
<rect x="703" y="150" width="1" height="4" fill="#fff"/>
<rect x="699" y="151" width="1" height="10" fill="#000"/>
<rect x="698" y="155" width="3" height="4" fill="#000"/>
<rect x="699" y="156" width="1" height="2" fill="#fff"/>
<rect x="695" y="140" width="1" height="20" fill="#000"/>
<rect x="694" y="152" width="3" height="7" fill="#000"/>
<rect x="691" y="148" width="1" height="29" fill="#000"/>
<rect x="690" y="152" width="3" height="24" fill="#000"/>
<rect x="691" y="153" width="1" height="22" fill="#fff"/>
<rect x="687" y="170" width="1" height="21" fill="#000"/>
<rect x="686" y="176" width="3" height="10" fill="#000"/>
<rect x="687" y="177" width="1" height="8" fill="#fff"/>
<rect x="683" y="172" width="1" height="11" fill="#000"/>
<rect x="682" y="173" width="3" height="9" fill="#000"/>
<rect x="679" y="167" width="1" height="10" fill="#000"/>
<rect x="678" y="167" width="3" height="7" fill="#000"/>
<rect x="675" y="164" width="1" height="9" fill="#000"/>
<rect x="674" y="167" width="3" height="5" fill="#000"/>
<rect x="675" y="168" width="1" height="3" fill="#fff"/>
<rect x="671" y="169" width="1" height="26" fill="#000"/>
<rect x="670" y="171" width="3" height="9" fill="#000"/>
<rect x="671" y="172" width="1" height="7" fill="#fff"/>
<rect x="667" y="161" width="1" height="22" fill="#000"/>
<rect x="666" y="179" width="3" height="3" fill="#000"/>
<rect x="663" y="169" width="1" height="23" fill="#000"/>
<rect x="662" y="181" width="3" height="8" fill="#000"/>
<rect x="663" y="182" width="1" height="6" fill="#fff"/>
<rect x="659" y="179" width="1" height="7" fill="#000"/>
<rect x="658" y="184" width="3" height="2" fill="#000"/>
<rect x="655" y="183" width="1" height="14" fill="#000"/>
<rect x="654" y="185" width="3" height="9" fill="#000"/>
<rect x="655" y="186" width="1" height="7" fill="#fff"/>
<rect x="651" y="189" width="1" height="6" fill="#000"/>
<rect x="650" y="191" width="3" height="3" fill="#000"/>
<rect x="647" y="185" width="1" height="19" fill="#000"/>
<rect x="646" y="191" width="3" height="1" fill="#000"/>
<rect x="643" y="181" width="1" height="17" fill="#000"/>
<rect x="642" y="191" width="3" height="2" fill="#000"/>
<rect x="639" y="177" width="1" height="21" fill="#000"/>
<rect x="638" y="185" width="3" height="8" fill="#000"/>
<rect x="635" y="185" width="1" height="9" fill="#000"/>
<rect x="634" y="186" width="3" height="6" fill="#000"/>
<rect x="635" y="187" width="1" height="4" fill="#fff"/>
<rect x="631" y="176" width="1" height="16" fill="#000"/>
<rect x="630" y="180" width="3" height="11" fill="#000"/>
<rect x="627" y="178" width="1" height="13" fill="#000"/>
<rect x="626" y="180" width="3" height="7" fill="#000"/>
<rect x="627" y="181" width="1" height="5" fill="#fff"/>
<rect x="623" y="182" width="1" height="26" fill="#000"/>
<rect x="622" y="186" width="3" height="17" fill="#000"/>
<rect x="623" y="187" width="1" height="15" fill="#fff"/>
<rect x="619" y="197" width="1" height="27" fill="#000"/>
<rect x="618" y="203" width="3" height="21" fill="#000"/>
<rect x="619" y="204" width="1" height="19" fill="#fff"/>
<rect x="615" y="200" width="1" height="24" fill="#000"/>
<rect x="614" y="210" width="3" height="14" fill="#000"/>
<rect x="611" y="218" width="1" height="10" fill="#000"/>
<rect x="610" y="218" width="3" height="9" fill="#000"/>
<rect x="611" y="219" width="1" height="7" fill="#fff"/>
<rect x="607" y="222" width="1" height="13" fill="#000"/>
<rect x="606" y="224" width="3" height="3" fill="#000"/>
<rect x="603" y="218" width="1" height="8" fill="#000"/>
<rect x="602" y="219" width="3" height="5" fill="#000"/>
<rect x="599" y="219" width="1" height="27" fill="#000"/>
<rect x="598" y="219" width="3" height="26" fill="#000"/>
<rect x="599" y="220" width="1" height="24" fill="#fff"/>
<rect x="595" y="237" width="1" height="10" fill="#000"/>
<rect x="594" y="237" width="3" height="8" fill="#000"/>
<rect x="591" y="181" width="1" height="68" fill="#000"/>
<rect x="590" y="182" width="3" height="56" fill="#000"/>
<rect x="587" y="167" width="1" height="18" fill="#000"/>
<rect x="586" y="170" width="3" height="12" fill="#000"/>
<rect x="583" y="160" width="1" height="14" fill="#000"/>
<rect x="582" y="163" width="3" height="7" fill="#000"/>
<rect x="579" y="160" width="1" height="9" fill="#000"/>
<rect x="578" y="160" width="3" height="4" fill="#000"/>
<rect x="575" y="159" width="1" height="26" fill="#000"/>
<rect x="574" y="160" width="3" height="17" fill="#000"/>
<rect x="575" y="161" width="1" height="15" fill="#fff"/>
<rect x="571" y="164" width="1" height="25" fill="#000"/>
<rect x="570" y="165" width="3" height="13" fill="#000"/>
<rect x="567" y="153" width="1" height="14" fill="#000"/>
<rect x="566" y="158" width="3" height="8" fill="#000"/>
<rect x="563" y="157" width="1" height="7" fill="#000"/>
<rect x="562" y="159" width="3" height="1" fill="#000"/>
<rect x="559" y="157" width="1" height="10" fill="#000"/>
<rect x="558" y="158" width="3" height="8" fill="#000"/>
<rect x="559" y="159" width="1" height="6" fill="#fff"/>
<rect x="555" y="155" width="1" height="14" fill="#000"/>
<rect x="554" y="157" width="3" height="9" fill="#000"/>
<rect x="551" y="152" width="1" height="26" fill="#000"/>
<rect x="550" y="155" width="3" height="4" fill="#000"/>
<rect x="547" y="140" width="1" height="22" fill="#000"/>
<rect x="546" y="144" width="3" height="12" fill="#000"/>
<rect x="543" y="141" width="1" height="17" fill="#000"/>
<rect x="542" y="144" width="3" height="1" fill="#000"/>
<rect x="539" y="140" width="1" height="8" fill="#000"/>
<rect x="538" y="144" width="3" height="1" fill="#000"/>
<rect x="535" y="143" width="1" height="19" fill="#000"/>
<rect x="534" y="143" width="3" height="12" fill="#000"/>
<rect x="535" y="144" width="1" height="10" fill="#fff"/>
<rect x="531" y="146" width="1" height="13" fill="#000"/>
<rect x="530" y="146" width="3" height="10" fill="#000"/>
<rect x="527" y="140" width="1" height="27" fill="#000"/>
<rect x="526" y="146" width="3" height="15" fill="#000"/>
<rect x="527" y="147" width="1" height="13" fill="#fff"/>
<rect x="523" y="129" width="1" height="32" fill="#000"/>
<rect x="522" y="146" width="3" height="15" fill="#000"/>
<rect x="519" y="134" width="1" height="15" fill="#000"/>
<rect x="518" y="140" width="3" height="8" fill="#000"/>
<rect x="515" y="124" width="1" height="12" fill="#000"/>
<rect x="514" y="127" width="3" height="6" fill="#000"/>
<rect x="511" y="93" width="1" height="39" fill="#000"/>
<rect x="510" y="99" width="3" height="29" fill="#000"/>
<rect x="507" y="93" width="1" height="54" fill="#000"/>
<rect x="506" y="99" width="3" height="48" fill="#000"/>
<rect x="507" y="100" width="1" height="46" fill="#fff"/>
<rect x="503" y="137" width="1" height="22" fill="#000"/>
<rect x="502" y="137" width="3" height="10" fill="#000"/>
<rect x="499" y="130" width="1" height="33" fill="#000"/>
<rect x="498" y="137" width="3" height="23" fill="#000"/>
<rect x="499" y="138" width="1" height="21" fill="#fff"/>
<rect x="495" y="146" width="1" height="23" fill="#000"/>
<rect x="494" y="160" width="3" height="7" fill="#000"/>
<rect x="495" y="161" width="1" height="5" fill="#fff"/>
<rect x="491" y="172" width="1" height="11" fill="#000"/>
<rect x="490" y="173" width="3" height="7" fill="#000"/>
<rect x="491" y="174" width="1" height="5" fill="#fff"/>
<rect x="487" y="180" width="1" height="16" fill="#000"/>
<rect x="486" y="182" width="3" height="13" fill="#000"/>
<rect x="487" y="183" width="1" height="11" fill="#fff"/>
<rect x="483" y="193" width="1" height="14" fill="#000"/>
<rect x="482" y="195" width="3" height="11" fill="#000"/>
<rect x="483" y="196" width="1" height="9" fill="#fff"/>
<rect x="479" y="188" width="1" height="22" fill="#000"/>
<rect x="478" y="206" width="3" height="1" fill="#000"/>
<rect x="475" y="179" width="1" height="35" fill="#000"/>
<rect x="474" y="189" width="3" height="17" fill="#000"/>
<rect x="471" y="160" width="1" height="37" fill="#000"/>
<rect x="470" y="160" width="3" height="29" fill="#000"/>
<rect x="467" y="144" width="1" height="8" fill="#000"/>
<rect x="466" y="148" width="3" height="4" fill="#000"/>
<rect x="463" y="148" width="1" height="7" fill="#000"/>
<rect x="462" y="149" width="3" height="3" fill="#000"/>
<rect x="463" y="150" width="1" height="1" fill="#fff"/>
<rect x="459" y="163" width="1" height="29" fill="#000"/>
<rect x="458" y="168" width="3" height="18" fill="#000"/>
<rect x="459" y="169" width="1" height="16" fill="#fff"/>
<rect x="455" y="185" width="1" height="22" fill="#000"/>
<rect x="454" y="186" width="3" height="3" fill="#000"/>
<rect x="455" y="187" width="1" height="1" fill="#fff"/>
<rect x="451" y="173" width="1" height="25" fill="#000"/>
<rect x="450" y="176" width="3" height="13" fill="#000"/>
<rect x="447" y="168" width="1" height="6" fill="#000"/>
<rect x="446" y="171" width="3" height="1" fill="#000"/>
<rect x="443" y="168" width="1" height="34" fill="#000"/>
<rect x="442" y="170" width="3" height="25" fill="#000"/>
<rect x="443" y="171" width="1" height="23" fill="#fff"/>
<rect x="439" y="191" width="1" height="43" fill="#000"/>
<rect x="438" y="195" width="3" height="36" fill="#000"/>
<rect x="439" y="196" width="1" height="34" fill="#fff"/>
<rect x="435" y="218" width="1" height="32" fill="#000"/>
<rect x="434" y="224" width="3" height="7" fill="#000"/>
<rect x="431" y="213" width="1" height="43" fill="#000"/>
<rect x="430" y="224" width="3" height="16" fill="#000"/>
<rect x="431" y="225" width="1" height="14" fill="#fff"/>
<rect x="427" y="232" width="1" height="35" fill="#000"/>
<rect x="426" y="240" width="3" height="18" fill="#000"/>
<rect x="427" y="241" width="1" height="16" fill="#fff"/>
<rect x="423" y="249" width="1" height="8" fill="#000"/>
<rect x="422" y="250" width="3" height="3" fill="#000"/>
<rect x="423" y="251" width="1" height="1" fill="#fff"/>
<rect x="419" y="249" width="1" height="21" fill="#000"/>
<rect x="418" y="253" width="3" height="6" fill="#000"/>
<rect x="419" y="254" width="1" height="4" fill="#fff"/>
<rect x="415" y="243" width="1" height="18" fill="#000"/>
<rect x="414" y="244" width="3" height="15" fill="#000"/>
<rect x="411" y="244" width="1" height="19" fill="#000"/>
<rect x="410" y="244" width="3" height="15" fill="#000"/>
<rect x="411" y="245" width="1" height="13" fill="#fff"/>
<rect x="407" y="239" width="1" height="32" fill="#000"/>
<rect x="406" y="260" width="3" height="8" fill="#000"/>
<rect x="407" y="261" width="1" height="6" fill="#fff"/>
<rect x="403" y="261" width="1" height="17" fill="#000"/>
<rect x="402" y="269" width="3" height="8" fill="#000"/>
<rect x="403" y="270" width="1" height="6" fill="#fff"/>
<rect x="399" y="279" width="1" height="9" fill="#000"/>
<rect x="398" y="282" width="3" height="4" fill="#000"/>
<rect x="399" y="283" width="1" height="2" fill="#fff"/>
<rect x="395" y="276" width="1" height="11" fill="#000"/>
<rect x="394" y="278" width="3" height="8" fill="#000"/>
<rect x="391" y="276" width="1" height="6" fill="#000"/>
<rect x="390" y="277" width="3" height="2" fill="#000"/>
<rect x="387" y="277" width="1" height="21" fill="#000"/>
<rect x="386" y="279" width="3" height="8" fill="#000"/>
<rect x="387" y="280" width="1" height="6" fill="#fff"/>
<rect x="383" y="273" width="1" height="31" fill="#000"/>
<rect x="382" y="276" width="3" height="11" fill="#000"/>
<rect x="379" y="271" width="1" height="29" fill="#000"/>
<rect x="378" y="276" width="3" height="12" fill="#000"/>
<rect x="379" y="277" width="1" height="10" fill="#fff"/>
<rect x="375" y="289" width="1" height="6" fill="#000"/>
<rect x="374" y="290" width="3" height="4" fill="#000"/>
<rect x="375" y="291" width="1" height="2" fill="#fff"/>
<rect x="371" y="286" width="1" height="11" fill="#000"/>
<rect x="370" y="291" width="3" height="2" fill="#000"/>
<rect x="367" y="287" width="1" height="16" fill="#000"/>
<rect x="366" y="291" width="3" height="12" fill="#000"/>
<rect x="367" y="292" width="1" height="10" fill="#fff"/>
<rect x="363" y="267" width="1" height="52" fill="#000"/>
<rect x="362" y="272" width="3" height="32" fill="#000"/>
<rect x="359" y="258" width="1" height="18" fill="#000"/>
<rect x="358" y="268" width="3" height="4" fill="#000"/>
<rect x="355" y="252" width="1" height="8" fill="#000"/>
<rect x="354" y="258" width="3" height="2" fill="#000"/>
<rect x="351" y="258" width="1" height="14" fill="#000"/>
<rect x="350" y="260" width="3" height="5" fill="#000"/>
<rect x="351" y="261" width="1" height="3" fill="#fff"/>
<rect x="347" y="261" width="1" height="9" fill="#000"/>
<rect x="346" y="263" width="3" height="1" fill="#000"/>
<rect x="343" y="236" width="1" height="39" fill="#000"/>
<rect x="342" y="261" width="3" height="3" fill="#000"/>
<rect x="343" y="262" width="1" height="1" fill="#fff"/>
<rect x="339" y="258" width="1" height="51" fill="#000"/>
<rect x="338" y="264" width="3" height="32" fill="#000"/>
<rect x="339" y="265" width="1" height="30" fill="#fff"/>
<rect x="335" y="295" width="1" height="8" fill="#000"/>
<rect x="334" y="300" width="3" height="1" fill="#000"/>
<rect x="331" y="292" width="1" height="11" fill="#000"/>
<rect x="330" y="294" width="3" height="7" fill="#000"/>
<rect x="327" y="284" width="1" height="11" fill="#000"/>
<rect x="326" y="284" width="3" height="11" fill="#000"/>
<rect x="323" y="265" width="1" height="27" fill="#000"/>
<rect x="322" y="288" width="3" height="1" fill="#000"/>
<rect x="319" y="273" width="1" height="29" fill="#000"/>
<rect x="318" y="289" width="3" height="3" fill="#000"/>
<rect x="319" y="290" width="1" height="1" fill="#fff"/>
<rect x="314" y="294" width="3" height="1" fill="#000"/>
<rect x="311" y="281" width="1" height="7" fill="#000"/>
<rect x="310" y="284" width="3" height="1" fill="#000"/>
<rect x="307" y="282" width="1" height="14" fill="#000"/>
<rect x="306" y="283" width="3" height="8" fill="#000"/>
<rect x="307" y="284" width="1" height="6" fill="#fff"/>
<rect x="303" y="286" width="1" height="7" fill="#000"/>
<rect x="302" y="290" width="3" height="1" fill="#000"/>
<rect x="299" y="282" width="1" height="17" fill="#000"/>
<rect x="298" y="290" width="3" height="9" fill="#000"/>
<rect x="299" y="291" width="1" height="7" fill="#fff"/>
<rect x="295" y="278" width="1" height="22" fill="#000"/>
<rect x="294" y="288" width="3" height="11" fill="#000"/>
<rect x="291" y="282" width="1" height="10" fill="#000"/>
<rect x="290" y="282" width="3" height="2" fill="#000"/>
<rect x="287" y="270" width="1" height="17" fill="#000"/>
<rect x="286" y="280" width="3" height="3" fill="#000"/>
<rect x="283" y="273" width="1" height="9" fill="#000"/>
<rect x="282" y="276" width="3" height="5" fill="#000"/>
<rect x="279" y="270" width="1" height="28" fill="#000"/>
<rect x="278" y="275" width="3" height="1" fill="#000"/>
<rect x="275" y="230" width="1" height="71" fill="#000"/>
<rect x="274" y="231" width="3" height="53" fill="#000"/>
<rect x="271" y="222" width="1" height="5" fill="#000"/>
<rect x="270" y="225" width="3" height="1" fill="#000"/>
<rect x="267" y="223" width="1" height="10" fill="#000"/>
<rect x="266" y="225" width="3" height="1" fill="#000"/>
<rect x="263" y="225" width="1" height="8" fill="#000"/>
<rect x="262" y="226" width="3" height="4" fill="#000"/>
<rect x="263" y="227" width="1" height="2" fill="#fff"/>
<rect x="259" y="203" width="1" height="45" fill="#000"/>
<rect x="258" y="208" width="3" height="21" fill="#000"/>
<rect x="255" y="203" width="1" height="39" fill="#000"/>
<rect x="254" y="208" width="3" height="20" fill="#000"/>
<rect x="255" y="209" width="1" height="18" fill="#fff"/>
<rect x="251" y="221" width="1" height="6" fill="#000"/>
<rect x="250" y="225" width="3" height="2" fill="#000"/>
<rect x="247" y="224" width="1" height="10" fill="#000"/>
<rect x="246" y="225" width="3" height="1" fill="#000"/>
<rect x="243" y="224" width="1" height="5" fill="#000"/>
<rect x="242" y="226" width="3" height="1" fill="#000"/>
<rect x="239" y="225" width="1" height="34" fill="#000"/>
<rect x="238" y="226" width="3" height="28" fill="#000"/>
<rect x="239" y="227" width="1" height="26" fill="#fff"/>
<rect x="235" y="231" width="1" height="46" fill="#000"/>
<rect x="234" y="240" width="3" height="14" fill="#000"/>
<rect x="231" y="230" width="1" height="7" fill="#000"/>
<rect x="230" y="234" width="3" height="1" fill="#000"/>
<rect x="227" y="227" width="1" height="12" fill="#000"/>
<rect x="226" y="235" width="3" height="3" fill="#000"/>
<rect x="227" y="236" width="1" height="1" fill="#fff"/>
<rect x="223" y="237" width="1" height="8" fill="#000"/>
<rect x="222" y="237" width="3" height="6" fill="#000"/>
<rect x="223" y="238" width="1" height="4" fill="#fff"/>
<rect x="219" y="233" width="1" height="24" fill="#000"/>
<rect x="218" y="243" width="3" height="12" fill="#000"/>
<rect x="219" y="244" width="1" height="10" fill="#fff"/>
<rect x="215" y="237" width="1" height="28" fill="#000"/>
<rect x="214" y="253" width="3" height="2" fill="#000"/>
<rect x="211" y="246" width="1" height="10" fill="#000"/>
<rect x="210" y="251" width="3" height="4" fill="#000"/>
<rect x="207" y="249" width="1" height="8" fill="#000"/>
<rect x="206" y="251" width="3" height="4" fill="#000"/>
<rect x="207" y="252" width="1" height="2" fill="#fff"/>
<rect x="203" y="252" width="1" height="6" fill="#000"/>
<rect x="202" y="254" width="3" height="1" fill="#000"/>
<rect x="199" y="251" width="1" height="13" fill="#000"/>
<rect x="198" y="254" width="3" height="7" fill="#000"/>
<rect x="199" y="255" width="1" height="5" fill="#fff"/>
<rect x="195" y="254" width="1" height="16" fill="#000"/>
<rect x="194" y="261" width="3" height="2" fill="#000"/>
<rect x="191" y="260" width="1" height="13" fill="#000"/>
<rect x="190" y="261" width="3" height="9" fill="#000"/>
<rect x="187" y="257" width="1" height="7" fill="#000"/>
<rect x="186" y="261" width="3" height="3" fill="#000"/>
<rect x="183" y="261" width="1" height="5" fill="#000"/>
<rect x="182" y="262" width="3" height="1" fill="#000"/>
<rect x="179" y="242" width="1" height="30" fill="#000"/>
<rect x="178" y="249" width="3" height="13" fill="#000"/>
<rect x="175" y="198" width="1" height="57" fill="#000"/>
<rect x="174" y="240" width="3" height="9" fill="#000"/>
<rect x="171" y="239" width="1" height="12" fill="#000"/>
<rect x="170" y="240" width="3" height="11" fill="#000"/>
<rect x="167" y="239" width="1" height="12" fill="#000"/>
<rect x="166" y="243" width="3" height="3" fill="#000"/>
<rect x="167" y="244" width="1" height="1" fill="#fff"/>
<rect x="163" y="243" width="1" height="12" fill="#000"/>
<rect x="162" y="245" width="3" height="10" fill="#000"/>
<rect x="163" y="246" width="1" height="8" fill="#fff"/>
<rect x="159" y="238" width="1" height="24" fill="#000"/>
<rect x="158" y="253" width="3" height="8" fill="#000"/>
<rect x="159" y="254" width="1" height="6" fill="#fff"/>
<rect x="155" y="228" width="1" height="41" fill="#000"/>
<rect x="154" y="260" width="3" height="7" fill="#000"/>
<rect x="155" y="261" width="1" height="5" fill="#fff"/>
<rect x="151" y="267" width="1" height="6" fill="#000"/>
<rect x="150" y="268" width="3" height="4" fill="#000"/>
<rect x="151" y="269" width="1" height="2" fill="#fff"/>
<rect x="147" y="271" width="1" height="7" fill="#000"/>
<rect x="146" y="272" width="3" height="6" fill="#000"/>
<rect x="147" y="273" width="1" height="4" fill="#fff"/>
<rect x="143" y="272" width="1" height="9" fill="#000"/>
<rect x="142" y="274" width="3" height="3" fill="#000"/>
<rect x="139" y="243" width="1" height="35" fill="#000"/>
<rect x="138" y="251" width="3" height="21" fill="#000"/>
<rect x="135" y="239" width="1" height="35" fill="#000"/>
<rect x="134" y="252" width="3" height="21" fill="#000"/>
<rect x="135" y="253" width="1" height="19" fill="#fff"/>
<rect x="130" y="273" width="3" height="1" fill="#000"/>
<rect x="127" y="269" width="1" height="5" fill="#000"/>
<rect x="126" y="271" width="3" height="2" fill="#000"/>
<rect x="123" y="260" width="1" height="15" fill="#000"/>
<rect x="122" y="263" width="3" height="10" fill="#000"/>
<rect x="119" y="259" width="1" height="11" fill="#000"/>
<rect x="118" y="260" width="3" height="5" fill="#000"/>
<rect x="115" y="254" width="1" height="16" fill="#000"/>
<rect x="114" y="263" width="3" height="3" fill="#000"/>
<rect x="115" y="264" width="1" height="1" fill="#fff"/>
<rect x="111" y="246" width="1" height="25" fill="#000"/>
<rect x="110" y="246" width="3" height="21" fill="#000"/>
<rect x="107" y="242" width="1" height="10" fill="#000"/>
<rect x="106" y="243" width="3" height="4" fill="#000"/>
<rect x="103" y="242" width="1" height="20" fill="#000"/>
<rect x="102" y="243" width="3" height="14" fill="#000"/>
<rect x="103" y="244" width="1" height="12" fill="#fff"/>
<rect x="99" y="247" width="1" height="12" fill="#000"/>
<rect x="98" y="249" width="3" height="8" fill="#000"/>
<rect x="95" y="245" width="1" height="19" fill="#000"/>
<rect x="94" y="250" width="3" height="12" fill="#000"/>
<rect x="95" y="251" width="1" height="10" fill="#fff"/>
<rect x="91" y="262" width="1" height="14" fill="#000"/>
<rect x="90" y="262" width="3" height="2" fill="#000"/>
<rect x="87" y="251" width="1" height="7" fill="#000"/>
<rect x="86" y="256" width="3" height="2" fill="#000"/>
<rect x="83" y="253" width="1" height="7" fill="#000"/>
<rect x="82" y="255" width="3" height="4" fill="#000"/>
<rect x="83" y="256" width="1" height="2" fill="#fff"/>
<rect x="79" y="256" width="1" height="11" fill="#000"/>
<rect x="78" y="258" width="3" height="1" fill="#000"/>
<rect x="75" y="253" width="1" height="20" fill="#000"/>
<rect x="74" y="262" width="3" height="7" fill="#000"/>
<rect x="75" y="263" width="1" height="5" fill="#fff"/>
<rect x="71" y="259" width="1" height="79" fill="#000"/>
<rect x="70" y="267" width="3" height="68" fill="#000"/>
<rect x="71" y="268" width="1" height="66" fill="#fff"/>
<rect x="67" y="333" width="1" height="6" fill="#000"/>
<rect x="66" y="334" width="3" height="3" fill="#000"/>
<rect x="63" y="331" width="1" height="14" fill="#000"/>
<rect x="62" y="334" width="3" height="7" fill="#000"/>
<rect x="63" y="335" width="1" height="5" fill="#fff"/>
<rect x="59" y="339" width="1" height="11" fill="#000"/>
<rect x="58" y="340" width="3" height="9" fill="#000"/>
<rect x="59" y="341" width="1" height="7" fill="#fff"/>
<rect x="55" y="334" width="1" height="23" fill="#000"/>
<rect x="54" y="334" width="3" height="16" fill="#000"/>
<rect x="51" y="326" width="1" height="27" fill="#000"/>
<rect x="50" y="332" width="3" height="3" fill="#000"/>
<rect x="47" y="329" width="1" height="4" fill="#000"/>
<rect x="46" y="331" width="3" height="1" fill="#000"/>
<rect x="43" y="330" width="1" height="8" fill="#000"/>
<rect x="42" y="331" width="3" height="4" fill="#000"/>
<rect x="43" y="332" width="1" height="2" fill="#fff"/>
<rect x="39" y="334" width="1" height="9" fill="#000"/>
<rect x="38" y="335" width="3" height="7" fill="#000"/>
<rect x="39" y="336" width="1" height="5" fill="#fff"/>
<rect x="35" y="341" width="1" height="9" fill="#000"/>
<rect x="34" y="344" width="3" height="4" fill="#000"/>
<rect x="35" y="345" width="1" height="2" fill="#fff"/>
<rect x="31" y="334" width="1" height="17" fill="#000"/>
<rect x="30" y="336" width="3" height="12" fill="#000"/>
<rect x="27" y="336" width="1" height="7" fill="#000"/>
<rect x="26" y="337" width="3" height="5" fill="#000"/>
<rect x="27" y="338" width="1" height="3" fill="#fff"/>
<rect x="23" y="338" width="1" height="9" fill="#000"/>
<rect x="22" y="341" width="3" height="1" fill="#000"/>
<rect x="19" y="341" width="1" height="7" fill="#000"/>
<rect x="18" y="341" width="3" height="4" fill="#000"/>
<rect x="19" y="342" width="1" height="2" fill="#fff"/>
<rect x="15" y="337" width="1" height="12" fill="#000"/>
<rect x="14" y="347" width="3" height="2" fill="#000"/>
<rect x="11" y="344" width="1" height="23" fill="#000"/>
<rect x="10" y="347" width="3" height="16" fill="#000"/>
<rect x="11" y="348" width="1" height="14" fill="#fff"/>
<rect x="7" y="350" width="1" height="15" fill="#000"/>
<rect x="6" y="352" width="3" height="9" fill="#000"/>
<rect x="3" y="347" width="1" height="11" fill="#000"/>
<rect x="2" y="348" width="3" height="10" fill="#000"/>
</g>
<rect x="3" y="88" width="5" height="5" fill="#ff0000"/>
<rect x="4" y="89" width="3" height="3" fill="#fff"/>
<rect x="1006" y="88" width="5" height="5" fill="#ff0000"/>
<rect x="1007" y="89" width="3" height="3" fill="#fff"/>
<g clip-path="url(#cd)">
<path d="M53.5 456v2M67.5 460v3M68.5 456v4M69.5 453v3M70.5 449v4M71.5 444v5M72.5 440v4M73.5 436v4M74.5 432v4M75.5 428v4M76.5 425v3M77.5 422v3M78.5 419v3M79.5 416v3M80.5 414v2M81.5 411v3M82.5 409v2M83.5 407v2M84.5 405v2M85.5 403v2M87.5 400v2M108.5 392v2M110.5 395v2M111.5 397v2M113.5 400v2M115.5 403v2M117.5 406v2M119.5 409v2M120.5 411v2M121.5 413v2M122.5 415v2M124.5 418v2M125.5 420v2M126.5 422v2M127.5 424v2M130.5 428v2M135.5 430v2M136.5 432v2M138.5 435v2M139.5 437v2M140.5 439v2M142.5 442v2M143.5 444v2M147.5 449v2M176.5 450v2M179.5 454v2M183.5 459v2M189.5 466v2M253.5 455v2M271.5 461v3M272.5 464v4M273.5 468v5M274.5 473v5M275.5 478v4M276.5 482v3M277.5 485v4M278.5 489v3M279.5 492v3M280.5 495v2M281.5 497v2M282.5 499v2M283.5 501v2M284.5 503v2M285.5 505v2M286.5 507v2M287.5 509v2M288.5 511v3M289.5 514v2M290.5 516v3M291.5 519v2M292.5 521v3M293.5 524v2M294.5 526v3M295.5 529v2M336.5 537v3M337.5 535v2M338.5 533v2M339.5 531v2M340.5 528v3M341.5 526v2M342.5 524v2M343.5 522v2M345.5 519v2M346.5 517v2M348.5 514v2M349.5 512v2M351.5 509v2M353.5 506v2M360.5 504v2M361.5 506v2M362.5 508v2M399.5 509v2M403.5 504v2M405.5 501v2M407.5 498v2M408.5 496v2M409.5 494v2M410.5 492v2M411.5 490v2M423.5 478v2M425.5 475v2M427.5 472v2M428.5 470v2M429.5 468v2M430.5 466v2M431.5 464v2M433.5 461v2M435.5 458v2M436.5 455v3M437.5 452v3M438.5 449v3M439.5 445v4M440.5 441v4M441.5 437v4M442.5 433v4M443.5 429v4M444.5 426v3M445.5 422v4M446.5 419v3M447.5 417v2M449.5 414v2M455.5 409v2M456.5 407v2M457.5 405v2M458.5 403v2M459.5 401v2M460.5 399v2M461.5 397v2M462.5 395v2M463.5 393v2M466.5 389v2M468.5 389v2M469.5 391v3M470.5 394v2M471.5 396v2M472.5 398v3M473.5 401v3M474.5 404v4M475.5 408v2M476.5 410v3M477.5 413v2M478.5 415v3M479.5 418v2M481.5 421v2M483.5 424v2M495.5 422v2M496.5 420v2M497.5 418v2M498.5 416v2M499.5 414v2M503.5 409v2M504.5 406v3M505.5 402v4M506.5 398v4M507.5 396v2M517.5 397v2M518.5 399v2M519.5 401v2M520.5 403v2M521.5 405v2M522.5 407v2M523.5 409v2M525.5 412v2M527.5 415v2M529.5 418v2M530.5 420v2M544.5 433v2M545.5 435v2M547.5 438v2M548.5 440v2M549.5 442v2M550.5 444v2M551.5 446v2M552.5 448v2M553.5 450v2M555.5 453v2M559.5 458v2M562.5 462v2M564.5 465v2M566.5 468v2M567.5 470v2M568.5 472v2M570.5 475v2M584.5 487v2M585.5 489v2M586.5 491v2M587.5 493v4M588.5 497v4M589.5 501v4M590.5 505v4M591.5 509v4M592.5 513v5M593.5 518v5M594.5 523v5M595.5 528v3M596.5 531v2M597.5 533v2M598.5 535v3M600.5 539v2M601.5 541v2M603.5 544v2M606.5 548v2M616.5 551v2M618.5 548v2M619.5 546v2M620.5 544v2M621.5 542v2M622.5 539v3M623.5 537v2M624.5 535v2M625.5 533v2M626.5 531v2M628.5 528v2M632.5 523v2M670.5 493v2M687.5 484v2M689.5 481v2M691.5 478v2M701.5 468v2M706.5 462v2M735.5 457v2M736.5 453v4M737.5 450v3M738.5 447v3M739.5 444v3M740.5 442v2M741.5 439v3M742.5 437v2M743.5 435v2M746.5 431v2M759.5 434v2M761.5 437v2M763.5 440v2M765.5 443v2M766.5 445v2M783.5 458v2M784.5 460v3M785.5 463v3M786.5 466v3M787.5 469v2M788.5 471v3M789.5 474v3M790.5 477v2M791.5 479v3M792.5 482v2M794.5 485v2M795.5 487v2M798.5 491v2M831.5 489v2M832.5 487v2M834.5 484v2M835.5 481v3M836.5 478v3M837.5 475v3M838.5 472v3M839.5 469v3M840.5 466v3M841.5 464v2M842.5 461v3M843.5 459v2M844.5 457v2M845.5 454v3M846.5 452v2M847.5 450v2M849.5 447v2M851.5 443v3M852.5 439v4M853.5 436v3M854.5 432v4M855.5 429v3M859.5 427v2M860.5 429v3M861.5 432v2M862.5 434v3M863.5 437v2M864.5 439v2M866.5 442v2M867.5 444v2M868.5 446v3M869.5 449v2M870.5 451v3M871.5 454v2M873.5 457v2M874.5 459v2M880.5 458v3M881.5 456v2M882.5 454v2M883.5 452v2M884.5 450v2M885.5 448v2M886.5 446v2M887.5 444v2M889.5 441v2M891.5 438v2M893.5 435v2M928.5 432v2M929.5 434v2M931.5 437v2M934.5 441v2M948.5 453v2M949.5 455v2M950.5 457v2M972.5 466v2M973.5 468v2M974.5 470v2M975.5 472v2M976.5 474v2M977.5 476v2M978.5 478v2M979.5 480v2M980.5 482v2M981.5 484v2M982.5 486v2M983.5 488v2M987.5 493v2M467 388.5h1M103 390.5h2M102 391.5h1M105 391.5h3M465 391.5h1M100 392.5h2M464 392.5h1M95 393.5h5M511 393.5h1M94 394.5h1M109 394.5h1M510 394.5h1M512 394.5h3M93 395.5h1M508 395.5h2M515 395.5h1M92 396.5h1M516 396.5h1M91 397.5h1M90 398.5h1M88 399.5h2M112 399.5h1M86 402.5h1M114 402.5h1M116 405.5h1M118 408.5h1M454 410.5h1M452 411.5h2M502 411.5h1M524 411.5h1M451 412.5h1M501 412.5h1M450 413.5h1M500 413.5h1M526 414.5h1M448 416.5h1M123 417.5h1M528 417.5h1M480 420.5h1M531 422.5h1M482 423.5h1M494 423.5h1M532 423.5h2M493 424.5h1M534 424.5h1M484 425.5h2M491 425.5h2M535 425.5h1M128 426.5h1M486 426.5h5M536 426.5h1M129 427.5h1M537 427.5h1M538 428.5h1M857 428.5h2M918 428.5h6M539 429.5h2M750 429.5h3M856 429.5h1M899 429.5h2M914 429.5h4M924 429.5h1M131 430.5h4M541 430.5h1M747 430.5h3M753 430.5h3M898 430.5h1M901 430.5h1M911 430.5h3M925 430.5h2M542 431.5h1M756 431.5h1M897 431.5h1M902 431.5h3M909 431.5h2M927 431.5h1M543 432.5h1M757 432.5h1M896 432.5h1M905 432.5h4M745 433.5h1M758 433.5h1M895 433.5h1M137 434.5h1M744 434.5h1M894 434.5h1M760 436.5h1M930 436.5h1M546 437.5h1M892 437.5h1M762 439.5h1M932 439.5h1M890 440.5h1M933 440.5h1M141 441.5h1M865 441.5h1M764 442.5h1M888 443.5h1M935 443.5h2M937 444.5h1M938 445.5h2M144 446.5h1M850 446.5h1M940 446.5h1M145 447.5h1M167 447.5h5M767 447.5h1M941 447.5h2M146 448.5h1M165 448.5h2M172 448.5h2M768 448.5h1M943 448.5h1M164 449.5h1M174 449.5h2M769 449.5h1M848 449.5h1M944 449.5h1M148 450.5h1M162 450.5h2M770 450.5h1M945 450.5h1M149 451.5h2M160 451.5h2M771 451.5h1M946 451.5h1M151 452.5h2M158 452.5h2M177 452.5h1M554 452.5h1M772 452.5h1M947 452.5h1M153 453.5h5M178 453.5h1M255 453.5h2M773 453.5h1M46 454.5h6M254 454.5h1M257 454.5h1M774 454.5h1M43 455.5h3M52 455.5h1M258 455.5h2M556 455.5h1M775 455.5h2M41 456.5h2M180 456.5h1M260 456.5h2M557 456.5h1M777 456.5h1M872 456.5h1M38 457.5h3M181 457.5h1M252 457.5h1M262 457.5h3M558 457.5h1M778 457.5h1M26 458.5h4M37 458.5h1M54 458.5h1M182 458.5h1M250 458.5h2M265 458.5h2M734 458.5h1M779 458.5h4M25 459.5h1M30 459.5h7M55 459.5h1M248 459.5h2M267 459.5h2M711 459.5h6M733 459.5h1M951 459.5h10M23 460.5h2M56 460.5h1M245 460.5h3M269 460.5h2M434 460.5h1M560 460.5h1M709 460.5h2M717 460.5h3M731 460.5h2M961 460.5h1M21 461.5h2M57 461.5h2M184 461.5h1M243 461.5h2M561 461.5h1M707 461.5h2M720 461.5h3M724 461.5h7M875 461.5h5M962 461.5h1M20 462.5h1M59 462.5h4M64 462.5h3M185 462.5h1M242 462.5h1M723 462.5h1M963 462.5h4M19 463.5h1M63 463.5h1M186 463.5h1M231 463.5h1M241 463.5h1M432 463.5h1M967 463.5h2M18 464.5h1M187 464.5h1M230 464.5h1M232 464.5h1M240 464.5h1M563 464.5h1M705 464.5h1M969 464.5h2M17 465.5h1M188 465.5h1M228 465.5h2M233 465.5h1M238 465.5h2M704 465.5h1M971 465.5h1M16 466.5h1M227 466.5h1M234 466.5h1M236 466.5h2M703 466.5h1M13 467.5h3M226 467.5h1M235 467.5h1M565 467.5h1M702 467.5h1M11 468.5h2M190 468.5h1M224 468.5h2M10 469.5h1M191 469.5h1M223 469.5h1M9 470.5h1M192 470.5h2M222 470.5h1M700 470.5h1M8 471.5h1M194 471.5h7M206 471.5h2M220 471.5h2M699 471.5h1M3 472.5h5M201 472.5h2M204 472.5h2M208 472.5h2M219 472.5h1M698 472.5h1M203 473.5h1M210 473.5h3M217 473.5h2M697 473.5h1M213 474.5h2M216 474.5h1M426 474.5h1M569 474.5h1M696 474.5h1M215 475.5h1M695 475.5h1M694 476.5h1M424 477.5h1M571 477.5h1M692 477.5h2M572 478.5h4M576 479.5h1M422 480.5h1M577 480.5h1M690 480.5h1M421 481.5h1M578 481.5h1M420 482.5h1M579 482.5h1M419 483.5h1M580 483.5h1M688 483.5h1M418 484.5h1M581 484.5h1M793 484.5h1M417 485.5h1M582 485.5h1M679 485.5h2M686 485.5h1M416 486.5h1M583 486.5h1M677 486.5h2M681 486.5h2M684 486.5h2M833 486.5h1M415 487.5h1M676 487.5h1M683 487.5h1M414 488.5h1M675 488.5h1M412 489.5h2M674 489.5h1M796 489.5h1M673 490.5h1M797 490.5h1M830 490.5h1M984 490.5h1M672 491.5h1M828 491.5h2M985 491.5h1M671 492.5h1M825 492.5h3M986 492.5h1M799 493.5h1M822 493.5h3M800 494.5h1M821 494.5h1M988 494.5h1M669 495.5h1M801 495.5h1M819 495.5h2M989 495.5h2M668 496.5h1M802 496.5h1M814 496.5h5M991 496.5h2M999 496.5h1M667 497.5h1M803 497.5h4M812 497.5h2M993 497.5h1M997 497.5h2M666 498.5h1M807 498.5h5M994 498.5h1M996 498.5h1M664 499.5h2M995 499.5h1M406 500.5h1M663 500.5h1M661 501.5h2M660 502.5h1M356 503.5h4M404 503.5h1M659 503.5h1M355 504.5h1M658 504.5h1M354 505.5h1M657 505.5h1M402 506.5h1M656 506.5h1M401 507.5h1M654 507.5h2M352 508.5h1M400 508.5h1M653 508.5h1M652 509.5h1M363 510.5h1M397 510.5h2M650 510.5h2M350 511.5h1M364 511.5h1M391 511.5h6M648 511.5h2M365 512.5h1M388 512.5h3M646 512.5h2M366 513.5h1M387 513.5h1M644 513.5h2M367 514.5h2M385 514.5h2M643 514.5h1M369 515.5h1M384 515.5h1M641 515.5h2M347 516.5h1M370 516.5h1M382 516.5h2M640 516.5h1M371 517.5h2M378 517.5h4M638 517.5h2M373 518.5h2M376 518.5h2M637 518.5h1M375 519.5h1M636 519.5h1M635 520.5h1M344 521.5h1M634 521.5h1M633 522.5h1M631 525.5h1M630 526.5h1M629 527.5h1M296 530.5h1M627 530.5h1M297 531.5h1M298 532.5h1M299 533.5h1M300 534.5h1M301 535.5h1M302 536.5h1M303 537.5h2M305 538.5h2M599 538.5h1M307 539.5h6M313 540.5h2M317 540.5h7M335 540.5h1M315 541.5h2M324 541.5h3M332 541.5h3M327 542.5h5M602 543.5h1M604 546.5h1M605 547.5h1M607 550.5h2M617 550.5h1M609 551.5h3M612 552.5h3M615 553.5h1" fill="none" stroke="#c0c0c0" stroke-width="1"/>
<rect x="3" y="473" width="1" height="26" fill="#00008b"/>
<rect x="7" y="473" width="1" height="26" fill="#00008b"/>
<rect x="11" y="469" width="1" height="30" fill="#00008b"/>
<rect x="15" y="467" width="1" height="32" fill="#00008b"/>
<rect x="19" y="463" width="1" height="36" fill="#00008b"/>
<rect x="23" y="461" width="1" height="38" fill="#00008b"/>
<rect x="27" y="458" width="1" height="41" fill="#00008b"/>
<rect x="31" y="460" width="1" height="39" fill="#00008b"/>
<rect x="35" y="460" width="1" height="39" fill="#00008b"/>
<rect x="39" y="457" width="1" height="42" fill="#00008b"/>
<rect x="43" y="456" width="1" height="43" fill="#00008b"/>
<rect x="47" y="455" width="1" height="44" fill="#00008b"/>
<rect x="51" y="455" width="1" height="44" fill="#00008b"/>
<rect x="55" y="460" width="1" height="39" fill="#00008b"/>
<rect x="59" y="462" width="1" height="37" fill="#00008b"/>
<rect x="63" y="463" width="1" height="36" fill="#00008b"/>
<rect x="67" y="462" width="1" height="37" fill="#00008b"/>
<rect x="71" y="447" width="1" height="52" fill="#00008b"/>
<rect x="75" y="430" width="1" height="69" fill="#00008b"/>
<rect x="79" y="418" width="1" height="81" fill="#00008b"/>
<rect x="83" y="408" width="1" height="91" fill="#00008b"/>
<rect x="87" y="401" width="1" height="98" fill="#00008b"/>
<rect x="91" y="398" width="1" height="101" fill="#00008b"/>
<rect x="95" y="394" width="1" height="105" fill="#00008b"/>
<rect x="99" y="393" width="1" height="106" fill="#00008b"/>
<rect x="103" y="391" width="1" height="108" fill="#00008b"/>
<rect x="107" y="391" width="1" height="108" fill="#00008b"/>
<rect x="111" y="398" width="1" height="101" fill="#00008b"/>
<rect x="115" y="404" width="1" height="95" fill="#00008b"/>
<rect x="119" y="410" width="1" height="89" fill="#00008b"/>
<rect x="123" y="418" width="1" height="81" fill="#00008b"/>
<rect x="127" y="425" width="1" height="74" fill="#00008b"/>
<rect x="131" y="430" width="1" height="69" fill="#00008b"/>
<rect x="135" y="431" width="1" height="68" fill="#00008b"/>
<rect x="139" y="438" width="1" height="61" fill="#00008b"/>
<rect x="143" y="445" width="1" height="54" fill="#00008b"/>
<rect x="147" y="450" width="1" height="49" fill="#00008b"/>
<rect x="151" y="452" width="1" height="47" fill="#00008b"/>
<rect x="155" y="454" width="1" height="45" fill="#00008b"/>
<rect x="159" y="452" width="1" height="47" fill="#00008b"/>
<rect x="163" y="450" width="1" height="49" fill="#00008b"/>
<rect x="167" y="447" width="1" height="52" fill="#00008b"/>
<rect x="171" y="448" width="1" height="51" fill="#00008b"/>
<rect x="175" y="450" width="1" height="49" fill="#00008b"/>
<rect x="179" y="455" width="1" height="44" fill="#00008b"/>
<rect x="183" y="460" width="1" height="39" fill="#00008b"/>
<rect x="187" y="464" width="1" height="35" fill="#00008b"/>
<rect x="191" y="470" width="1" height="29" fill="#00008b"/>
<rect x="195" y="472" width="1" height="27" fill="#00008b"/>
<rect x="199" y="472" width="1" height="27" fill="#00008b"/>
<rect x="203" y="473" width="1" height="26" fill="#00008b"/>
<rect x="207" y="472" width="1" height="27" fill="#00008b"/>
<rect x="211" y="474" width="1" height="25" fill="#00008b"/>
<rect x="215" y="475" width="1" height="24" fill="#00008b"/>
<rect x="219" y="472" width="1" height="27" fill="#00008b"/>
<rect x="223" y="470" width="1" height="29" fill="#00008b"/>
<rect x="227" y="467" width="1" height="32" fill="#00008b"/>
<rect x="231" y="464" width="1" height="35" fill="#00008b"/>
<rect x="235" y="468" width="1" height="31" fill="#00008b"/>
<rect x="239" y="465" width="1" height="34" fill="#00008b"/>
<rect x="243" y="462" width="1" height="37" fill="#00008b"/>
<rect x="247" y="460" width="1" height="39" fill="#00008b"/>
<rect x="251" y="459" width="1" height="40" fill="#00008b"/>
<rect x="255" y="453" width="1" height="46" fill="#00008b"/>
<rect x="259" y="456" width="1" height="43" fill="#00008b"/>
<rect x="263" y="458" width="1" height="41" fill="#00008b"/>
<rect x="267" y="459" width="1" height="40" fill="#00008b"/>
<rect x="271" y="462" width="1" height="37" fill="#00008b"/>
<rect x="275" y="480" width="1" height="19" fill="#00008b"/>
<rect x="279" y="494" width="1" height="5" fill="#00008b"/>
<rect x="283" y="498" width="1" height="4" fill="#00008b"/>
<rect x="287" y="498" width="1" height="12" fill="#00008b"/>
<rect x="291" y="498" width="1" height="22" fill="#00008b"/>
<rect x="295" y="498" width="1" height="32" fill="#00008b"/>
<rect x="299" y="498" width="1" height="35" fill="#00008b"/>
<rect x="303" y="498" width="1" height="39" fill="#00008b"/>
<rect x="307" y="498" width="1" height="41" fill="#00008b"/>
<rect x="311" y="498" width="1" height="41" fill="#00008b"/>
<rect x="315" y="498" width="1" height="43" fill="#00008b"/>
<rect x="319" y="498" width="1" height="43" fill="#00008b"/>
<rect x="323" y="498" width="1" height="43" fill="#00008b"/>
<rect x="327" y="498" width="1" height="44" fill="#00008b"/>
<rect x="331" y="498" width="1" height="44" fill="#00008b"/>
<rect x="335" y="498" width="1" height="43" fill="#00008b"/>
<rect x="339" y="498" width="1" height="34" fill="#00008b"/>
<rect x="343" y="498" width="1" height="25" fill="#00008b"/>
<rect x="347" y="498" width="1" height="19" fill="#00008b"/>
<rect x="351" y="498" width="1" height="12" fill="#00008b"/>
<rect x="355" y="498" width="1" height="6" fill="#00008b"/>
<rect x="359" y="498" width="1" height="5" fill="#00008b"/>
<rect x="363" y="498" width="1" height="13" fill="#00008b"/>
<rect x="367" y="498" width="1" height="16" fill="#00008b"/>
<rect x="371" y="498" width="1" height="19" fill="#00008b"/>
<rect x="375" y="498" width="1" height="21" fill="#00008b"/>
<rect x="379" y="498" width="1" height="19" fill="#00008b"/>
<rect x="383" y="498" width="1" height="19" fill="#00008b"/>
<rect x="387" y="498" width="1" height="15" fill="#00008b"/>
<rect x="391" y="498" width="1" height="14" fill="#00008b"/>
<rect x="395" y="498" width="1" height="14" fill="#00008b"/>
<rect x="399" y="498" width="1" height="12" fill="#00008b"/>
<rect x="403" y="498" width="1" height="7" fill="#00008b"/>
<rect x="407" y="498" width="1" height="1" fill="#00008b"/>
<rect x="411" y="491" width="1" height="8" fill="#00008b"/>
<rect x="415" y="488" width="1" height="11" fill="#00008b"/>
<rect x="419" y="483" width="1" height="16" fill="#00008b"/>
<rect x="423" y="479" width="1" height="20" fill="#00008b"/>
<rect x="427" y="473" width="1" height="26" fill="#00008b"/>
<rect x="431" y="465" width="1" height="34" fill="#00008b"/>
<rect x="435" y="459" width="1" height="40" fill="#00008b"/>
<rect x="439" y="447" width="1" height="52" fill="#00008b"/>
<rect x="443" y="431" width="1" height="68" fill="#00008b"/>
<rect x="447" y="418" width="1" height="81" fill="#00008b"/>
<rect x="451" y="412" width="1" height="87" fill="#00008b"/>
<rect x="455" y="410" width="1" height="89" fill="#00008b"/>
<rect x="459" y="402" width="1" height="97" fill="#00008b"/>
<rect x="463" y="394" width="1" height="105" fill="#00008b"/>
<rect x="467" y="388" width="1" height="111" fill="#00008b"/>
<rect x="471" y="397" width="1" height="102" fill="#00008b"/>
<rect x="475" y="409" width="1" height="90" fill="#00008b"/>
<rect x="479" y="419" width="1" height="80" fill="#00008b"/>
<rect x="483" y="425" width="1" height="74" fill="#00008b"/>
<rect x="487" y="427" width="1" height="72" fill="#00008b"/>
<rect x="491" y="426" width="1" height="73" fill="#00008b"/>
<rect x="495" y="423" width="1" height="76" fill="#00008b"/>
<rect x="499" y="415" width="1" height="84" fill="#00008b"/>
<rect x="503" y="411" width="1" height="88" fill="#00008b"/>
<rect x="507" y="397" width="1" height="102" fill="#00008b"/>
<rect x="511" y="394" width="1" height="105" fill="#00008b"/>
<rect x="515" y="395" width="1" height="104" fill="#00008b"/>
<rect x="519" y="402" width="1" height="97" fill="#00008b"/>
<rect x="523" y="410" width="1" height="89" fill="#00008b"/>
<rect x="527" y="416" width="1" height="83" fill="#00008b"/>
<rect x="531" y="422" width="1" height="77" fill="#00008b"/>
<rect x="535" y="425" width="1" height="74" fill="#00008b"/>
<rect x="539" y="429" width="1" height="70" fill="#00008b"/>
<rect x="543" y="432" width="1" height="67" fill="#00008b"/>
<rect x="547" y="439" width="1" height="60" fill="#00008b"/>
<rect x="551" y="447" width="1" height="52" fill="#00008b"/>
<rect x="555" y="454" width="1" height="45" fill="#00008b"/>
<rect x="559" y="459" width="1" height="40" fill="#00008b"/>
<rect x="563" y="464" width="1" height="35" fill="#00008b"/>
<rect x="567" y="471" width="1" height="28" fill="#00008b"/>
<rect x="571" y="478" width="1" height="21" fill="#00008b"/>
<rect x="575" y="479" width="1" height="20" fill="#00008b"/>
<rect x="579" y="482" width="1" height="17" fill="#00008b"/>
<rect x="583" y="486" width="1" height="13" fill="#00008b"/>
<rect x="587" y="494" width="1" height="5" fill="#00008b"/>
<rect x="591" y="498" width="1" height="13" fill="#00008b"/>
<rect x="595" y="498" width="1" height="32" fill="#00008b"/>
<rect x="599" y="498" width="1" height="41" fill="#00008b"/>
<rect x="603" y="498" width="1" height="47" fill="#00008b"/>
<rect x="607" y="498" width="1" height="52" fill="#00008b"/>
<rect x="611" y="498" width="1" height="54" fill="#00008b"/>
<rect x="615" y="498" width="1" height="55" fill="#00008b"/>
<rect x="619" y="498" width="1" height="50" fill="#00008b"/>
<rect x="623" y="498" width="1" height="40" fill="#00008b"/>
<rect x="627" y="498" width="1" height="32" fill="#00008b"/>
<rect x="631" y="498" width="1" height="27" fill="#00008b"/>
<rect x="635" y="498" width="1" height="22" fill="#00008b"/>
<rect x="639" y="498" width="1" height="19" fill="#00008b"/>
<rect x="643" y="498" width="1" height="16" fill="#00008b"/>
<rect x="647" y="498" width="1" height="14" fill="#00008b"/>
<rect x="651" y="498" width="1" height="12" fill="#00008b"/>
<rect x="655" y="498" width="1" height="9" fill="#00008b"/>
<rect x="659" y="498" width="1" height="6" fill="#00008b"/>
<rect x="663" y="498" width="1" height="2" fill="#00008b"/>
<rect x="667" y="498" width="1" height="1" fill="#00008b"/>
<rect x="671" y="493" width="1" height="6" fill="#00008b"/>
<rect x="675" y="489" width="1" height="10" fill="#00008b"/>
<rect x="679" y="485" width="1" height="14" fill="#00008b"/>
<rect x="683" y="487" width="1" height="12" fill="#00008b"/>
<rect x="687" y="485" width="1" height="14" fill="#00008b"/>
<rect x="691" y="479" width="1" height="20" fill="#00008b"/>
<rect x="695" y="475" width="1" height="24" fill="#00008b"/>
<rect x="699" y="471" width="1" height="28" fill="#00008b"/>
<rect x="703" y="467" width="1" height="32" fill="#00008b"/>
<rect x="707" y="462" width="1" height="37" fill="#00008b"/>
<rect x="711" y="460" width="1" height="39" fill="#00008b"/>
<rect x="715" y="460" width="1" height="39" fill="#00008b"/>
<rect x="719" y="461" width="1" height="38" fill="#00008b"/>
<rect x="723" y="462" width="1" height="37" fill="#00008b"/>
<rect x="727" y="462" width="1" height="37" fill="#00008b"/>
<rect x="731" y="461" width="1" height="38" fill="#00008b"/>
<rect x="735" y="458" width="1" height="41" fill="#00008b"/>
<rect x="739" y="445" width="1" height="54" fill="#00008b"/>
<rect x="743" y="436" width="1" height="63" fill="#00008b"/>
<rect x="747" y="431" width="1" height="68" fill="#00008b"/>
<rect x="751" y="430" width="1" height="69" fill="#00008b"/>
<rect x="755" y="431" width="1" height="68" fill="#00008b"/>
<rect x="759" y="435" width="1" height="64" fill="#00008b"/>
<rect x="763" y="441" width="1" height="58" fill="#00008b"/>
<rect x="767" y="448" width="1" height="51" fill="#00008b"/>
<rect x="771" y="451" width="1" height="48" fill="#00008b"/>
<rect x="775" y="455" width="1" height="44" fill="#00008b"/>
<rect x="779" y="458" width="1" height="41" fill="#00008b"/>
<rect x="783" y="458" width="1" height="41" fill="#00008b"/>
<rect x="787" y="470" width="1" height="29" fill="#00008b"/>
<rect x="791" y="481" width="1" height="18" fill="#00008b"/>
<rect x="795" y="488" width="1" height="11" fill="#00008b"/>
<rect x="799" y="493" width="1" height="6" fill="#00008b"/>
<rect x="803" y="497" width="1" height="2" fill="#00008b"/>
<rect x="807" y="498" width="1" height="1" fill="#00008b"/>
<rect x="811" y="498" width="1" height="1" fill="#00008b"/>
<rect x="815" y="497" width="1" height="2" fill="#00008b"/>
<rect x="819" y="496" width="1" height="3" fill="#00008b"/>
<rect x="823" y="493" width="1" height="6" fill="#00008b"/>
<rect x="827" y="492" width="1" height="7" fill="#00008b"/>
<rect x="831" y="490" width="1" height="9" fill="#00008b"/>
<rect x="835" y="483" width="1" height="16" fill="#00008b"/>
<rect x="839" y="470" width="1" height="29" fill="#00008b"/>
<rect x="843" y="460" width="1" height="39" fill="#00008b"/>
<rect x="847" y="451" width="1" height="48" fill="#00008b"/>
<rect x="851" y="445" width="1" height="54" fill="#00008b"/>
<rect x="855" y="430" width="1" height="69" fill="#00008b"/>
<rect x="859" y="428" width="1" height="71" fill="#00008b"/>
<rect x="863" y="438" width="1" height="61" fill="#00008b"/>
<rect x="867" y="445" width="1" height="54" fill="#00008b"/>
<rect x="871" y="455" width="1" height="44" fill="#00008b"/>
<rect x="875" y="462" width="1" height="37" fill="#00008b"/>
<rect x="879" y="462" width="1" height="37" fill="#00008b"/>
<rect x="883" y="453" width="1" height="46" fill="#00008b"/>
<rect x="887" y="445" width="1" height="54" fill="#00008b"/>
<rect x="891" y="439" width="1" height="60" fill="#00008b"/>
<rect x="895" y="433" width="1" height="66" fill="#00008b"/>
<rect x="899" y="429" width="1" height="70" fill="#00008b"/>
<rect x="903" y="432" width="1" height="67" fill="#00008b"/>
<rect x="907" y="432" width="1" height="67" fill="#00008b"/>
<rect x="911" y="431" width="1" height="68" fill="#00008b"/>
<rect x="915" y="430" width="1" height="69" fill="#00008b"/>
<rect x="919" y="429" width="1" height="70" fill="#00008b"/>
<rect x="923" y="429" width="1" height="70" fill="#00008b"/>
<rect x="927" y="432" width="1" height="67" fill="#00008b"/>
<rect x="931" y="438" width="1" height="61" fill="#00008b"/>
<rect x="935" y="443" width="1" height="56" fill="#00008b"/>
<rect x="939" y="446" width="1" height="53" fill="#00008b"/>
<rect x="943" y="448" width="1" height="51" fill="#00008b"/>
<rect x="947" y="452" width="1" height="47" fill="#00008b"/>
<rect x="951" y="460" width="1" height="39" fill="#00008b"/>
<rect x="955" y="459" width="1" height="40" fill="#00008b"/>
<rect x="959" y="459" width="1" height="40" fill="#00008b"/>
<rect x="963" y="462" width="1" height="37" fill="#00008b"/>
<rect x="967" y="463" width="1" height="36" fill="#00008b"/>
<rect x="971" y="465" width="1" height="34" fill="#00008b"/>
<rect x="975" y="473" width="1" height="26" fill="#00008b"/>
<rect x="979" y="481" width="1" height="18" fill="#00008b"/>
<rect x="983" y="489" width="1" height="10" fill="#00008b"/>
<rect x="987" y="494" width="1" height="5" fill="#00008b"/>
<rect x="991" y="496" width="1" height="3" fill="#00008b"/>
<rect x="995" y="498" width="1" height="1" fill="#00008b"/>
<rect x="999" y="497" width="1" height="2" fill="#00008b"/>
<path d="M11.5 481v2M79.5 449v2M82.5 445v2M84.5 442v2M86.5 439v2M87.5 437v2M88.5 435v2M89.5 433v2M91.5 430v2M92.5 428v2M93.5 426v2M94.5 424v2M95.5 422v2M96.5 420v2M97.5 418v2M98.5 416v2M99.5 414v2M101.5 411v2M102.5 409v2M104.5 406v2M105.5 404v2M106.5 403v2M126.5 400v2M139.5 414v2M141.5 417v2M143.5 420v2M145.5 423v2M147.5 426v2M150.5 430v2M152.5 433v2M153.5 434v2M166.5 445v2M236.5 469v2M280.5 464v2M285.5 470v2M286.5 471v3M287.5 474v2M289.5 477v2M290.5 479v2M291.5 481v2M292.5 483v2M293.5 485v2M294.5 487v2M295.5 489v3M296.5 492v2M297.5 494v2M298.5 496v2M299.5 498v3M300.5 501v2M301.5 503v2M302.5 505v2M303.5 507v2M304.5 509v2M305.5 511v2M306.5 513v2M307.5 515v2M308.5 517v2M309.5 519v2M310.5 521v2M312.5 524v2M318.5 531v2M425.5 493v2M428.5 489v2M431.5 485v2M434.5 481v2M436.5 478v2M438.5 475v2M439.5 473v2M440.5 471v2M441.5 469v2M442.5 467v2M444.5 464v2M445.5 462v2M446.5 460v2M447.5 458v2M448.5 456v2M449.5 454v2M450.5 452v2M451.5 450v2M452.5 448v2M453.5 446v2M454.5 444v2M455.5 442v2M456.5 440v2M457.5 438v2M458.5 436v2M459.5 434v2M460.5 432v2M461.5 430v2M462.5 428v2M463.5 426v2M464.5 423v3M465.5 421v2M466.5 419v2M467.5 417v2M468.5 414v3M470.5 411v2M472.5 408v2M474.5 405v2M544.5 415v2M549.5 421v2M553.5 426v2M556.5 430v2M558.5 433v2M561.5 437v2M564.5 441v2M568.5 446v2M571.5 450v2M573.5 453v2M575.5 456v2M577.5 459v2M578.5 460v2M582.5 465v2M585.5 469v2M588.5 473v2M589.5 475v2M590.5 477v2M591.5 479v3M592.5 482v2M593.5 484v2M594.5 486v2M595.5 488v2M596.5 490v2M597.5 492v2M598.5 494v2M599.5 496v2M600.5 498v3M601.5 501v2M602.5 503v2M603.5 505v2M604.5 507v3M605.5 510v2M606.5 512v2M607.5 514v2M608.5 516v2M609.5 518v2M610.5 520v2M611.5 522v2M612.5 524v2M613.5 526v2M615.5 529v2M616.5 531v2M618.5 534v2M619.5 536v2M636.5 539v2M651.5 523v2M736.5 459v2M783.5 444v2M787.5 449v2M790.5 453v2M792.5 456v2M794.5 459v2M796.5 462v2M797.5 464v2M798.5 465v2M800.5 468v2M803.5 472v2M806.5 476v2M821.5 491v2M846.5 482v3M848.5 479v2M849.5 477v2M850.5 475v2M852.5 472v2M853.5 469v3M854.5 466v3M855.5 464v2M856.5 462v2M857.5 460v2M858.5 458v2M859.5 456v2M861.5 453v2M862.5 451v2M916.5 433v2M112 397.5h9M111 398.5h1M121 398.5h2M110 399.5h1M123 399.5h2M109 400.5h1M125 400.5h1M108 401.5h1M107 402.5h1M127 402.5h1M128 403.5h1M129 404.5h1M477 404.5h5M130 405.5h1M475 405.5h2M482 405.5h3M131 406.5h1M485 406.5h2M525 406.5h9M132 407.5h1M473 407.5h1M487 407.5h2M522 407.5h3M534 407.5h3M103 408.5h1M133 408.5h1M489 408.5h2M520 408.5h2M537 408.5h1M134 409.5h1M491 409.5h2M518 409.5h2M538 409.5h1M135 410.5h1M471 410.5h1M493 410.5h2M516 410.5h2M539 410.5h1M136 411.5h1M495 411.5h1M515 411.5h1M540 411.5h1M137 412.5h1M496 412.5h2M513 412.5h2M541 412.5h1M100 413.5h1M138 413.5h1M469 413.5h1M498 413.5h2M511 413.5h2M542 413.5h1M500 414.5h1M509 414.5h2M543 414.5h1M501 415.5h4M507 415.5h2M140 416.5h1M505 416.5h2M545 417.5h1M546 418.5h1M142 419.5h1M547 419.5h1M548 420.5h1M144 422.5h1M550 423.5h1M551 424.5h1M146 425.5h1M552 425.5h1M148 428.5h1M554 428.5h1M149 429.5h1M555 429.5h1M921 431.5h11M90 432.5h1M151 432.5h1M557 432.5h1M919 432.5h2M932 432.5h4M917 433.5h2M936 433.5h3M915 434.5h1M939 434.5h2M559 435.5h1M914 435.5h1M941 435.5h3M154 436.5h1M560 436.5h1M913 436.5h1M944 436.5h1M155 437.5h1M767 437.5h6M912 437.5h1M945 437.5h2M156 438.5h1M765 438.5h2M773 438.5h3M911 438.5h1M947 438.5h1M157 439.5h1M562 439.5h1M763 439.5h2M776 439.5h1M910 439.5h1M948 439.5h1M158 440.5h1M563 440.5h1M761 440.5h2M777 440.5h2M908 440.5h2M949 440.5h2M85 441.5h1M159 441.5h1M759 441.5h2M779 441.5h1M907 441.5h1M951 441.5h1M160 442.5h2M758 442.5h1M780 442.5h1M905 442.5h2M952 442.5h1M162 443.5h1M565 443.5h1M757 443.5h1M781 443.5h2M904 443.5h1M953 443.5h1M83 444.5h1M163 444.5h2M566 444.5h1M756 444.5h1M873 444.5h8M902 444.5h2M954 444.5h1M165 445.5h1M567 445.5h1M755 445.5h1M869 445.5h4M881 445.5h8M899 445.5h3M955 445.5h1M167 446.5h1M753 446.5h2M784 446.5h1M867 446.5h2M889 446.5h4M896 446.5h3M956 446.5h1M81 447.5h1M168 447.5h3M752 447.5h1M785 447.5h1M866 447.5h1M893 447.5h3M957 447.5h1M80 448.5h1M171 448.5h4M569 448.5h1M751 448.5h1M786 448.5h1M865 448.5h1M958 448.5h1M175 449.5h3M570 449.5h1M750 449.5h1M864 449.5h1M959 449.5h2M78 450.5h1M178 450.5h3M748 450.5h2M863 450.5h1M961 450.5h1M77 451.5h1M181 451.5h2M747 451.5h1M788 451.5h1M962 451.5h2M76 452.5h1M183 452.5h2M572 452.5h1M746 452.5h1M789 452.5h1M964 452.5h1M75 453.5h1M185 453.5h2M745 453.5h1M965 453.5h2M74 454.5h1M187 454.5h2M743 454.5h2M967 454.5h1M73 455.5h1M189 455.5h2M574 455.5h1M742 455.5h1M791 455.5h1M860 455.5h1M968 455.5h2M71 456.5h2M191 456.5h2M740 456.5h2M970 456.5h2M49 457.5h9M67 457.5h4M193 457.5h2M739 457.5h1M972 457.5h1M47 458.5h2M58 458.5h9M195 458.5h2M267 458.5h5M576 458.5h1M738 458.5h1M793 458.5h1M973 458.5h1M44 459.5h3M197 459.5h2M263 459.5h4M272 459.5h2M737 459.5h1M974 459.5h1M41 460.5h3M199 460.5h1M259 460.5h4M274 460.5h2M734 460.5h2M975 460.5h1M39 461.5h2M200 461.5h2M255 461.5h4M276 461.5h2M731 461.5h3M795 461.5h1M976 461.5h1M37 462.5h2M202 462.5h2M253 462.5h2M278 462.5h1M579 462.5h1M729 462.5h2M977 462.5h1M35 463.5h2M204 463.5h1M250 463.5h3M279 463.5h1M580 463.5h1M726 463.5h3M978 463.5h1M33 464.5h2M205 464.5h2M248 464.5h2M581 464.5h1M724 464.5h2M979 464.5h1M31 465.5h2M207 465.5h2M246 465.5h2M722 465.5h2M980 465.5h1M30 466.5h1M209 466.5h1M243 466.5h3M281 466.5h1M443 466.5h1M720 466.5h2M981 466.5h1M28 467.5h2M210 467.5h2M241 467.5h2M282 467.5h1M583 467.5h1M719 467.5h1M799 467.5h1M982 467.5h1M26 468.5h2M212 468.5h3M238 468.5h3M283 468.5h1M584 468.5h1M717 468.5h2M983 468.5h1M25 469.5h1M215 469.5h2M237 469.5h1M284 469.5h1M716 469.5h1M984 469.5h1M24 470.5h1M217 470.5h2M224 470.5h12M715 470.5h1M801 470.5h1M985 470.5h1M23 471.5h1M219 471.5h5M586 471.5h1M714 471.5h1M802 471.5h1M986 471.5h1M22 472.5h1M587 472.5h1M712 472.5h2M987 472.5h1M21 473.5h1M711 473.5h1M988 473.5h1M20 474.5h1M710 474.5h1M804 474.5h1M851 474.5h1M989 474.5h1M19 475.5h1M709 475.5h1M805 475.5h1M990 475.5h1M18 476.5h1M288 476.5h1M707 476.5h2M991 476.5h1M16 477.5h2M437 477.5h1M706 477.5h1M992 477.5h1M15 478.5h1M705 478.5h1M807 478.5h1M993 478.5h1M14 479.5h1M704 479.5h1M808 479.5h1M994 479.5h1M13 480.5h1M435 480.5h1M702 480.5h2M809 480.5h1M995 480.5h1M12 481.5h1M701 481.5h1M810 481.5h1M847 481.5h1M996 481.5h1M10 482.5h1M700 482.5h1M811 482.5h1M997 482.5h1M9 483.5h1M433 483.5h1M699 483.5h1M812 483.5h1M998 483.5h1M7 484.5h2M432 484.5h1M697 484.5h2M813 484.5h1M845 484.5h1M6 485.5h1M696 485.5h1M814 485.5h1M844 485.5h1M4 486.5h2M695 486.5h1M815 486.5h1M843 486.5h1M3 487.5h1M430 487.5h1M694 487.5h1M816 487.5h1M842 487.5h1M429 488.5h1M692 488.5h2M817 488.5h1M841 488.5h1M691 489.5h1M818 489.5h1M840 489.5h1M690 490.5h1M819 490.5h1M839 490.5h1M427 491.5h1M688 491.5h2M820 491.5h1M837 491.5h2M426 492.5h1M687 492.5h1M822 492.5h2M835 492.5h2M686 493.5h1M824 493.5h3M833 493.5h2M684 494.5h2M827 494.5h6M424 495.5h1M683 495.5h1M423 496.5h1M682 496.5h1M422 497.5h1M680 497.5h2M421 498.5h1M679 498.5h1M420 499.5h1M678 499.5h1M419 500.5h1M676 500.5h2M418 501.5h1M675 501.5h1M417 502.5h1M674 502.5h1M416 503.5h1M672 503.5h2M415 504.5h1M671 504.5h1M414 505.5h1M670 505.5h1M413 506.5h1M669 506.5h1M412 507.5h1M667 507.5h2M410 508.5h2M666 508.5h1M409 509.5h1M665 509.5h1M407 510.5h2M664 510.5h1M405 511.5h2M663 511.5h1M403 512.5h2M662 512.5h1M376 513.5h13M400 513.5h3M661 513.5h1M372 514.5h4M389 514.5h4M396 514.5h4M660 514.5h1M370 515.5h2M393 515.5h3M659 515.5h1M368 516.5h2M658 516.5h1M367 517.5h1M657 517.5h1M365 518.5h2M656 518.5h1M364 519.5h1M655 519.5h1M363 520.5h1M654 520.5h1M361 521.5h2M653 521.5h1M360 522.5h1M652 522.5h1M311 523.5h1M359 523.5h1M358 524.5h1M357 525.5h1M650 525.5h1M313 526.5h1M356 526.5h1M649 526.5h1M314 527.5h1M355 527.5h1M648 527.5h1M315 528.5h1M354 528.5h1M614 528.5h1M647 528.5h1M316 529.5h1M353 529.5h1M646 529.5h1M317 530.5h1M352 530.5h1M645 530.5h1M351 531.5h1M644 531.5h1M350 532.5h1M643 532.5h1M319 533.5h2M349 533.5h1M617 533.5h1M642 533.5h1M321 534.5h1M348 534.5h1M641 534.5h1M322 535.5h2M347 535.5h1M640 535.5h1M324 536.5h1M345 536.5h2M639 536.5h1M325 537.5h2M343 537.5h2M638 537.5h1M327 538.5h2M341 538.5h2M620 538.5h1M637 538.5h1M329 539.5h4M336 539.5h5M621 539.5h1M333 540.5h3M622 540.5h1M635 540.5h1M623 541.5h1M633 541.5h2M624 542.5h1M632 542.5h1M625 543.5h7" fill="none" stroke="#000" stroke-width="1"/>
</g>
<rect x="2" y="2" width="1" height="374" fill="#000"/>
<rect x="2" y="377" width="1" height="187" fill="#000"/>
<rect x="2" y="2" width="1010" height="1" fill="#000"/>
<rect x="1011" y="2" width="1" height="374" fill="#000"/>
<rect x="1011" y="377" width="1" height="187" fill="#000"/>
<rect x="2" y="375" width="1010" height="1" fill="#000"/>
<rect x="2" y="377" width="1010" height="1" fill="#000"/>
<rect x="2" y="563" width="1010" height="1" fill="#000"/>
<rect x="1012" y="9" width="2" height="1" fill="#000"/>
<text xml:space="preserve" x="1017 1022.08 1027.15 1032.23 1037.31 1042.38 1044.92" y="12.9" fill="#000" stroke="#000" stroke-width="0.25">17268.0</text>
<rect x="1012" y="42" width="2" height="1" fill="#000"/>
<text xml:space="preserve" x="1017 1022.08 1027.15 1032.23 1037.31 1042.38 1044.92" y="45.9" fill="#000" stroke="#000" stroke-width="0.25">17088.0</text>
<rect x="1012" y="75" width="2" height="1" fill="#000"/>
<text xml:space="preserve" x="1017 1022.08 1027.15 1032.23 1037.31 1042.38 1044.92" y="78.9" fill="#000" stroke="#000" stroke-width="0.25">16908.0</text>
<rect x="1012" y="108" width="2" height="1" fill="#000"/>
<text xml:space="preserve" x="1017 1022.08 1027.15 1032.23 1037.31 1042.38 1044.92" y="111.9" fill="#000" stroke="#000" stroke-width="0.25">16723.0</text>
<rect x="1012" y="141" width="2" height="1" fill="#000"/>
<text xml:space="preserve" x="1017 1022.08 1027.15 1032.23 1037.31 1042.38 1044.92" y="144.9" fill="#000" stroke="#000" stroke-width="0.25">16543.0</text>
<rect x="1012" y="174" width="2" height="1" fill="#000"/>
<text xml:space="preserve" x="1017 1022.08 1027.15 1032.23 1037.31 1042.38 1044.92" y="177.9" fill="#000" stroke="#000" stroke-width="0.25">16363.0</text>
<rect x="1012" y="207" width="2" height="1" fill="#000"/>
<text xml:space="preserve" x="1017 1022.08 1027.15 1032.23 1037.31 1042.38 1044.92" y="210.9" fill="#000" stroke="#000" stroke-width="0.25">16183.0</text>
<rect x="1012" y="240" width="2" height="1" fill="#000"/>
<text xml:space="preserve" x="1017 1022.08 1027.15 1032.23 1037.31 1042.38 1044.92" y="243.9" fill="#000" stroke="#000" stroke-width="0.25">16003.0</text>
<rect x="1012" y="273" width="2" height="1" fill="#000"/>
<text xml:space="preserve" x="1017 1022.08 1027.15 1032.23 1037.31 1042.38 1044.92" y="276.9" fill="#000" stroke="#000" stroke-width="0.25">15823.0</text>
<rect x="1012" y="306" width="2" height="1" fill="#000"/>
<text xml:space="preserve" x="1017 1022.08 1027.15 1032.23 1037.31 1042.38 1044.92" y="309.9" fill="#000" stroke="#000" stroke-width="0.25">15643.0</text>
<rect x="1012" y="339" width="2" height="1" fill="#000"/>
<text xml:space="preserve" x="1017 1022.08 1027.15 1032.23 1037.31 1042.38 1044.92" y="342.9" fill="#000" stroke="#000" stroke-width="0.25">15463.0</text>
<rect x="1012" y="372" width="2" height="1" fill="#000"/>
<text xml:space="preserve" x="1017 1022.08 1027.15 1032.23 1037.31 1042.38 1044.92" y="375.9" fill="#000" stroke="#000" stroke-width="0.25">15283.0</text>
<rect x="1013" y="28" width="41" height="11" fill="#ff0000"/>
<text xml:space="preserve" x="1017 1022.08 1027.15 1032.23 1037.31 1042.38 1044.92" y="36.8" fill="#fff" stroke="#fff" stroke-width="0.25">17132.0</text>
<rect x="1013" y="56" width="41" height="11" fill="#000"/>
<text xml:space="preserve" x="1017 1022.08 1027.15 1032.23 1037.31 1042.38 1044.92" y="64.8" fill="#fff" stroke="#fff" stroke-width="0.25">16984.6</text>
<rect x="1013" y="84" width="41" height="11" fill="#ff0000"/>
<text xml:space="preserve" x="1017 1022.08 1027.15 1032.23 1037.31 1042.38 1044.92" y="92.8" fill="#fff" stroke="#fff" stroke-width="0.25">16822.5</text>
<rect x="1012" y="379" width="1" height="1" fill="#000"/>
<text xml:space="preserve" x="1015.4 1020.4 1025.4 1030.4 1032.9 1037.9" y="387.7" fill="#000" stroke="#000" stroke-width="0.25">176.77</text>
<rect x="1012" y="498" width="1" height="1" fill="#000"/>
<text xml:space="preserve" x="1015.6 1020.6 1023.1 1028.1" y="501" fill="#000" stroke="#000" stroke-width="0.25">0.00</text>
<rect x="1012" y="562" width="1" height="1" fill="#000"/>
<text xml:space="preserve" x="1015 1018.5 1023.5 1028.5 1031 1036" y="560" fill="#000" stroke="#000" stroke-width="0.25">-94.99</text>
<rect x="3" y="564" width="1" height="3" fill="#000"/>
<text xml:space="preserve" x="2.2 7.2 10.7 17.8 21.9 25 28.5 33.5 38.5 43.5" y="575.4" fill="#000" stroke="#000" stroke-width="0.25">6 Oct 2020</text>
<rect x="67" y="564" width="1" height="3" fill="#000"/>
<text xml:space="preserve" x="66.2 71.2 74.7 81.8 85.9 89 92.5 97.5 102.5 105.2 110.2" y="575.4" fill="#000" stroke="#000" stroke-width="0.25">9 Oct 20:00</text>
<rect x="131" y="564" width="1" height="3" fill="#000"/>
<text xml:space="preserve" x="130.2 135.2 140.2 143.7 150.8 154.9 158 161.5 166.5 171.5 174.2 179.2" y="575.4" fill="#000" stroke="#000" stroke-width="0.25">15 Oct 00:00</text>
<rect x="195" y="564" width="1" height="3" fill="#000"/>
<text xml:space="preserve" x="194.2 199.2 204.2 207.7 214.8 218.9 222 225.5 230.5 235.5 238.2 243.2" y="575.4" fill="#000" stroke="#000" stroke-width="0.25">20 Oct 04:00</text>
<rect x="259" y="564" width="1" height="3" fill="#000"/>
<text xml:space="preserve" x="258.2 263.2 268.2 271.7 278.8 282.9 286 289.5 294.5 299.5 302.2 307.2" y="575.4" fill="#000" stroke="#000" stroke-width="0.25">23 Oct 08:00</text>
<rect x="323" y="564" width="1" height="3" fill="#000"/>
<text xml:space="preserve" x="322.2 327.2 332.2 335.7 342.8 346.9 350 353.5 358.5 363.5 366.2 371.2" y="575.4" fill="#000" stroke="#000" stroke-width="0.25">28 Oct 08:00</text>
<rect x="387" y="564" width="1" height="3" fill="#000"/>
<text xml:space="preserve" x="386.2 391.2 394.7 401.4 406.9 411.8 415.3 420.3 425.3 428 433" y="575.4" fill="#000" stroke="#000" stroke-width="0.25">2 Nov 08:00</text>
<rect x="451" y="564" width="1" height="3" fill="#000"/>
<text xml:space="preserve" x="450.2 455.2 458.7 465.4 470.9 475.8 479.3 484.3 489.3 492 497" y="575.4" fill="#000" stroke="#000" stroke-width="0.25">5 Nov 00:00</text>
<rect x="515" y="564" width="1" height="3" fill="#000"/>
<text xml:space="preserve" x="514.2 519.2 522.7 529.4 534.9 539.8 543.3 548.3 553.3 556 561" y="575.4" fill="#000" stroke="#000" stroke-width="0.25">9 Nov 20:00</text>
<rect x="579" y="564" width="1" height="3" fill="#000"/>
<text xml:space="preserve" x="578.2 583.2 588.2 591.7 598.4 603.9 608.8 612.3 617.3 622.3 625 630" y="575.4" fill="#000" stroke="#000" stroke-width="0.25">12 Nov 12:00</text>
<rect x="643" y="564" width="1" height="3" fill="#000"/>
<text xml:space="preserve" x="642.2 647.2 652.2 655.7 662.4 667.9 672.8 676.3 681.3 686.3 689 694" y="575.4" fill="#000" stroke="#000" stroke-width="0.25">17 Nov 04:00</text>
<rect x="707" y="564" width="1" height="3" fill="#000"/>
<text xml:space="preserve" x="706.2 711.2 716.2 719.7 726.4 731.9 736.8 740.3 745.3 750.3 753 758" y="575.4" fill="#000" stroke="#000" stroke-width="0.25">19 Nov 20:00</text>
<rect x="771" y="564" width="1" height="3" fill="#000"/>
<text xml:space="preserve" x="770.2 775.2 780.2 783.7 790.4 795.9 800.8 804.3 809.3 814.3 817 822" y="575.4" fill="#000" stroke="#000" stroke-width="0.25">24 Nov 12:00</text>
<rect x="835" y="564" width="1" height="3" fill="#000"/>
<text xml:space="preserve" x="834.2 839.2 844.2 847.7 854.4 859.9 864.8 868.3 873.3 878.3 881 886" y="575.4" fill="#000" stroke="#000" stroke-width="0.25">27 Nov 04:00</text>
<rect x="899" y="564" width="1" height="3" fill="#000"/>
<text xml:space="preserve" x="898.2 903.2 906.7 913.5 918.2 922.3 925.8 930.8 935.8 938.5 943.5" y="575.4" fill="#000" stroke="#000" stroke-width="0.25">1 Dec 20:00</text>
<rect x="963" y="564" width="1" height="3" fill="#000"/>
<text xml:space="preserve" x="962.2 967.2 970.7 977.5 982.2 986.3 989.8 994.8 999.8 1002.5 1007.5" y="575.4" fill="#000" stroke="#000" stroke-width="0.25">4 Dec 12:00</text>
<text xml:space="preserve" x="6.6 12.78 19.26 21.76 28.34 33.32 36.81 40.3 45.29 50.27 55.26 60.25 65.23 67.72 72.71 76.2 81.19 86.17 91.16 96.14 101.13 103.62 108.61 112.1 117.08 122.07 127.05 132.04 137.02 139.52 144.5 147.99 152.98 157.96 162.95 167.94 172.92 175.41" y="14" fill="#000" stroke="#000" stroke-width="0.25">XU,H4  16918.7 16989.6 16894.7 16984.6</text>
<text xml:space="preserve" x="9.5 15.13 20.15 25.17 30.2 35.22 40.24 45.27 50.29 55.31 58.83 64.75 70.28 75.1 78.62 83.64 86.15 91.18" y="151" fill="#000" stroke="#000" stroke-width="0.25">#41528571 buy 8.20</text>
<text xml:space="preserve" x="6.7 14.96 21.15 28.04 34.72 38.66 43.57 48.49 50.95 55.86 60.78 63.24 68.15 71.99 75.43 80.35 82.8 87.72 92.64 96.08 100.99 105.91 108.37 113.29 118.2 121.64 125.08 128.53 135.11 143.37 149.57 153.5 158.42 162.25 165.69 170.61 173.07 177.98" y="389.7" fill="#000" stroke="#000" stroke-width="0.25">MACD(12,26,9) 3.47 22.50  -&gt;MA(1) 3.47</text>
</svg>
</body></html>
